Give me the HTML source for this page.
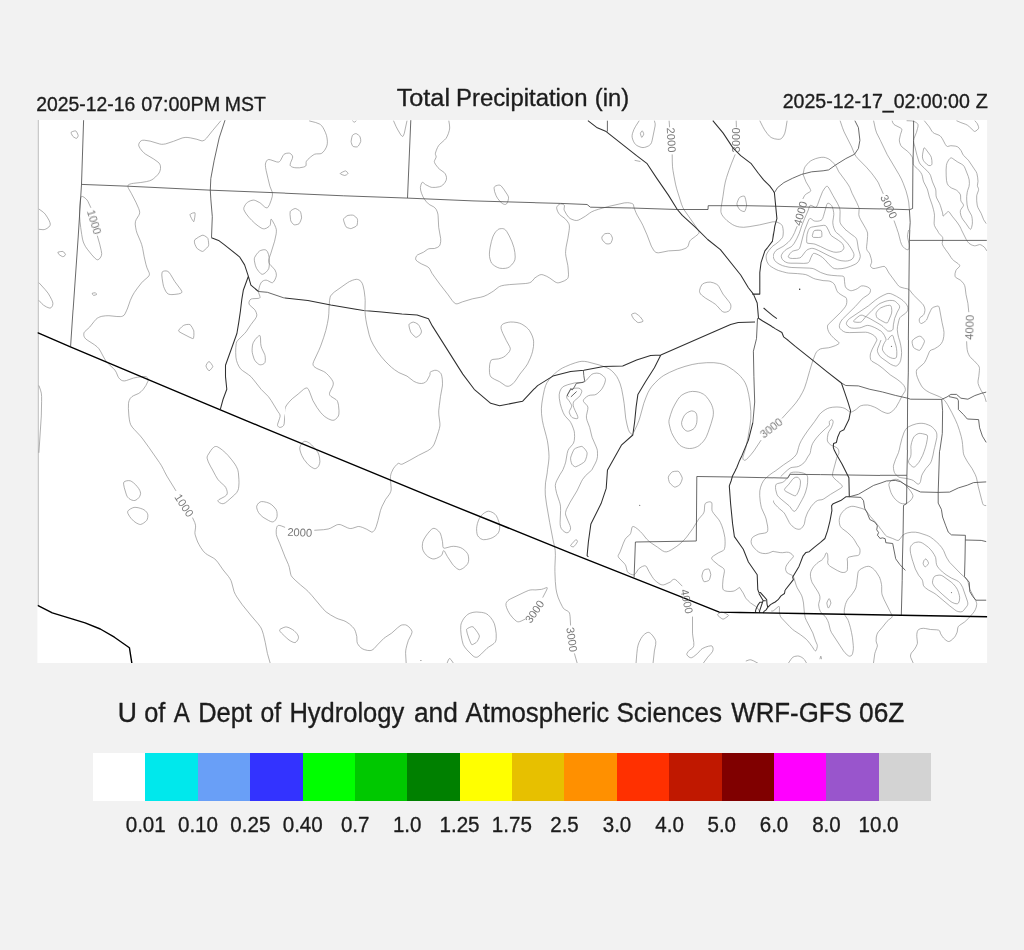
<!DOCTYPE html>
<html><head><meta charset="utf-8"><title>Total Precipitation</title>
<style>html,body{margin:0;padding:0;background:#f2f2f2;font-family:"Liberation Sans",sans-serif;}svg{display:block}</style></head>
<body>
<svg width="1024" height="950" viewBox="0 0 1024 950">
<rect x="0" y="0" width="1024" height="950" fill="#f2f2f2"/>
<rect x="37.4" y="120" width="949.7" height="543" fill="#ffffff"/>
<rect x="37.6" y="120" width="1.4" height="485.3" fill="#cacaca"/>
<defs>
<clipPath id="cA"><rect x="38" y="120" width="247" height="190"/></clipPath>
<clipPath id="cB"><rect x="285" y="120" width="250" height="190"/></clipPath>
<clipPath id="cC"><rect x="535" y="120" width="238" height="190"/></clipPath>
<clipPath id="cE"><rect x="38" y="310" width="247" height="160"/></clipPath>
<clipPath id="cF"><rect x="285" y="310" width="250" height="160"/></clipPath>
<clipPath id="cG"><rect x="535" y="310" width="238" height="160"/></clipPath>
<clipPath id="cI"><rect x="38" y="470" width="247" height="193"/></clipPath>
<clipPath id="cJ"><rect x="285" y="470" width="250" height="193"/></clipPath>
<clipPath id="cK"><rect x="535" y="470" width="238" height="193"/></clipPath>
<clipPath id="cD1"><rect x="773" y="120" width="107" height="110"/></clipPath>
<clipPath id="cD2"><rect x="880" y="120" width="107.1" height="110"/></clipPath>
<clipPath id="cD3"><rect x="773" y="230" width="107" height="110"/></clipPath>
<clipPath id="cD4"><rect x="880" y="230" width="107.1" height="110"/></clipPath>
<clipPath id="cH1"><rect x="773" y="340" width="107" height="110"/></clipPath>
<clipPath id="cH2"><rect x="880" y="340" width="107.1" height="110"/></clipPath>
<clipPath id="cH3"><rect x="773" y="450" width="107" height="110"/></clipPath>
<clipPath id="cH4"><rect x="880" y="450" width="107.1" height="110"/></clipPath>
<clipPath id="cL1"><rect x="773" y="560" width="107" height="103"/></clipPath>
<clipPath id="cL2"><rect x="880" y="560" width="107.1" height="103"/></clipPath>
<clipPath id="cmap"><rect x="37.4" y="120" width="949.7" height="543"/></clipPath>
</defs>
<g clip-path="url(#cA)" fill="none" stroke-linejoin="round" stroke-linecap="butt">
<path d="M71.1 132.3l1.2-0.7l2-0.6l1.1-0.2l0.5 0.2l1.3 1.9l1 2.5l-0.4 1.5l-1.1 1.4l-0.2 0.1l-0.8-0.2l-1.8-1l-1.2-1l-1.4-2.6l-0.2-1.3zM220.9 120.7l-8.4 10l-6 7.5l-2 1.9l-1.6 0.7l-0.9 0.1l-1-0.2l-4.1-1.4l-6.3-1.4l-2.7-0.4l-2-0.1l-1.9 0.2l-1.9 0.4l-8.6 3.3l-5.4 1.8l-2.5 0.8l-2 0.3l-2 0.1l-1.8-0.3l-9.7-2.9l-5.9-0.9l-1.8 0.1l-1.1 0.4l-1.3 1.1l-0.7 1l-0.6 1.7l0.1 1.4l1.3 2.5l2.1 2.7l1.7 1.7l1.4 1.2l8.4 5l4.3 3.1l1.1 1l0.7 1.1l0.5 1.2l0.2 1.5l0 1.6l-0.3 1.7l-0.5 1.5l-0.6 1.2l-1.5 2l-2 2l-2.1 1.8l-1.6 1.1l-2.3 1l-3.2 0.8l-5.6 0.9l-7.2 0.8l-2 0.3l-2 0.6l-0.9 0.5l-0.7 0.6l-0.2 0.9l0.2 0.9l0.5 1.3l2.8 4.9l4.6 8.9l2.8 6.3l0.8 2.5l0.2 1.8l-0.3 1.3l-0.7 1.4l-2.4 3.9l-0.8 1.9l-0.3 2.7l0.4 3.1l0.6 3.2l0.8 2.8l3.7 8.7l1 2.8l1 4l1.5 8.2l1.7 7.4l1.1 3.7l2.2 4.9l0.2 0.9l0 0.9l-0.4 1.1l-1.1 1.4l-4.7 4l-1.8 1.9l-3.9 5l-3.2 4.5l-2 3.5l-2 4.4l-3 8.6l-0.9 1.6l-1.7 1.8l-1.6 1.3l-1.3 0.8l-2.9 1.2l-2.7 0.2l-7.2-0.4l-2.4 0.1l-4.5 1l-4 1.6l-2.1 1.3l-1.4 1.2l-2.2 2.5l-4 5.2l-3.5 3.1l-0.6 0.7l-0.5 1.2l0.3 2.2l1 2.5l1.6 2.5l1.3 1.3l2.1 1.6l8.5 5.7M90.9 207.8l-3-6.5l-0.8-1.2l-1.2-1.3l-1.9-1.6l-1.7-0.8l-0.6 0l-0.3 0.2l-0.7 1.3l-0.5 2.9l-0.5 5.1l-0.2 5.2l0.1 5.2l0.4 5.2l0.7 5.9l1 7l0.8 4.7l0.8 2.9l0.9 2.1l1.3 2.5l1.8 2.6l4.5 5.6l2.8 3.1l2.1 1.7l0.6 0.2l0.8-0.1l1.3-0.8l1.4-1.9l0.7-1.7l0.2-1.8l-0.5-3.1l-1.5-6.3l-2.4-8.4M38.9 209l4.3 3.1l2 2l2 3l1.8 3.1l1 2.5l0.3 1.6l-0.4 1.4l-1 1.3l-1.9 1.4l-1.8 0.9l-1 0.3l-1.2 0.1l-4.1-0.4M57.9 252.2l2.4-0.6l2.7-0.2l0.7 0.6l0.9 1l0.9 1.7l-0.5 0.8l-1.1 0.8l-0.9 0.5l-0.3-0.1l-1.6-0.8l-1.9-1.2l-1.1-1.6l-0.2-0.6l0-0.3zM38.9 282.7l6.2 6.8l3 3.7l2 3.4l1.6 3.1l0.9 2.2l0.3 1.7l-0.3 1.8l-0.8 1.5l-0.7 0.8l-0.8 0.3l-1.2 0l-2.7-1.1l-2.8-1.7l-1.7-1.5l-3-3.3M92.2 293.3l1.6-0.4l1.7-0.1l0.8 0.9l0.2 0.9l-1.4 0.5l-1.6 0.3l-0.9-1l-0.4-1.1zM190 214.6l0.5-0.6l1.9-0.9l2-0.4l0.6 0.1l0.1 1.5l-0.3 2.8l-0.6 3.4l-0.4 1.2l-0.9-0.9l-1.3-2.2l-1.2-2.5l-0.4-1.5zM195 239.5l3.4-2.3l3.6-1.9l1-0.1l1.6 0.6l2.2 1.4l0.7 0.7l0.4 0.6l0.4 1.9l0.3 2.5l0.1 1.7l-0.2 1.2l-0.6 1l-1.2 1.3l-3.1 2.8l-0.7 0.4l-0.6 0.1l-1.4-0.5l-1.7-1l-1.9-1.3l-0.5-0.5l-0.8-1.4l-1-2.2l-0.5-1.6l-0.1-1.8l0.3-1.2l0.3-0.4zM162.5 271.7l0.7-0.4l1.1-0.3l1.8-0.1l1.8 0.5l1 0.8l1.6 2.2l4.2 7l6.4 8.6l0.7 1.5l0.1 0.6l-0.5 0.8l-0.9 0.5l-1.9 0.5l-3.7 0.5l-3 0.2l-1.7-0.1l-1.4-0.3l-0.8-0.3l-1.1-1l-1.2-1.7l-1.2-2.5l-0.9-2.2l-0.6-2.7l-0.8-5l-0.4-3.8l0.2-2.2l0.5-1.1zM178.5 330.9l0.4-0.9l1-1.3l1.8-1.9l1.9-1.5l1.3-0.5l1.9-0.3l1.9-0.2l1.3 0.3l0.8 0.8l1.3 2l1.2 2.3l0.5 1.2l0.1 1.9l0 2.6l-0.2 1.8l-0.3 1.1l-0.1 0.2l-0.5 0.1l-1.4-0.3l-4.9-2.2l-5.7-3.2l-1.7-1.3l-0.6-0.7zM290 153.1l-4 0.4l-1.1 0.3l-1 0.6l-1 1.4l-2.4 4.7l-1 1.1l-0.7 0.4l-0.8 0.1l-1.4-0.2l-5.8-2l-1.8-0.4l-0.8 0.1l-0.9 0.5l-0.7 0.7l-0.7 1.5l-0.5 1.7l0 1.3l0.2 2.3l0.5 2.7l1.9 8.3l1.9 7.6l2.1 5.3l0.5 2.5l-0.3 2.8l-1.2 3.9l-1.5 4l-1.4 2.4l-0.5 0.5l-0.5 0.3l-1.2-0.2l-1.3-0.8l-3.7-3.4l-1.1-0.8l-4-2l-1.5-0.5l-0.9-0.1l-1.4 0.2l-1.6 0.5l-1.6 0.7l-1.3 0.9l-1.1 0.9l-1 1.3l-0.8 1.5l-0.7 1.5l-0.1 1l0 0.8l0.7 1.7l1.8 2.9l2.6 3.3l2.9 3.1l3.1 3l3.3 2.6l2.8 1.9l1.8 0.8l0.8 0.1l0.9 0l2.1-0.7l2.4-1.6l0.9-1l0.5-1l0.4-4.8l0.2-0.5l0.4 0.1l0.8 1.1l2.3 4.1l1.2 2.9l0.6 1.9l0.1 1.9l-0.2 2.6l-1.6 7.4l-3.7 12l-1.9 5.4l-0.3 1.5l-0.1 1.4l0.2 1.3l0.7 1.2l1.5 1.7l2.9 2.8l1.1 1.5l1.1 2.7l0.3 2.6l-0.4 1.9l-1.2 2.8l-1.3 1.9l-1 0.8l-0.4 0l-0.9-0.2l-3.7-2l-1.4-0.4l-1.5 0.2l-1 0.3l-1.8 1.2l-0.9 1.2l-1 2.2l-0.8 2.8l-0.5 3.1l0 1.6l1.3 3.5l0.1 1.4l-0.5 0.5l-1.2 0.3l-5.6 0.3l-1.5 0.3l-1.2 0.9l-0.6 1l-0.5 1.7l0.3 1.6l1 1.4l4 3.5l1.3 1.5l1.1 2.2l0.8 2l0.3 1.5l-0.1 1.5l-0.5 1.1l-0.8 1.2l-5.4 5.7l-3.7 5.8l-1.4 1.8l-1.5 1.4l-4.5 3.4l-1.4 1.5l-1.3 1.7l-0.8 1.8l-0.2 1.4l0.2 1.8l0.6 3.5M254.7 257.3l1.5-2.5l1.8-2.3l1.5-1.4l1.3-0.7l2.3-0.6l1.1-0.1l1.1 0.1l1.1 0.6l1.1 1.4l1 2.6l0.7 3.3l0.3 4.8l-0.4 4.5l-0.4 1.7l-1.2 1.9l-1.7 1.8l-1.9 1.4l-1.6 0.5l-0.7-0.2l-0.8-0.5l-2.1-2.2l-2.2-3.1l-1.2-3.1l-0.9-4.4l-0.1-2l0.4-1.5zM253.4 338.5l3.1-2.1l1.7-1l1.3-0.3l0.5 0.3l0.5 1.7l0.5 6l1.3 6.8" stroke="#858585" stroke-width="0.65"/>
<path d="M83.6 120.2l-2.1 64.2l-3.3 52.6l-7.6 109.1M81.3 184.4l46.5 1.8l83 4l79.2 3.1M225 120.2l-5.8 17.7l-5.1 22.9l-3.3 17.8l-0.5 11.6l0.5 8.7l1.5 17.7l-0.8 21.1M258.5 291.5l8.9 0.8l16.5 5.6l6.1 0.5" stroke="#444444" stroke-width="0.8"/>
<path d="M211.5 237.7l7.7 3.1l5 3.8l15.3 12.2l5.1 8.1l3.8 11.4l2.5 8.9l7.6 6.3M248.4 276.3l-5.1 14l-1.5 9.1l-1.4 11.7l-2.2 14.7l-2.5 10.2l-5.1 13.9" stroke="#303030" stroke-width="1.05"/>
</g>
<g clip-path="url(#cB)" fill="none" stroke-linejoin="round" stroke-linecap="butt">
<path d="M309.2 120.9l6.5 1.6l3.8 1.5l1.1 0.7l1 1l1.2 1.6l1.1 1.9l1.4 3l1.2 3.2l0.5 2.5l0.4 3.3l-0.1 2.6l-0.5 2.2l-0.8 1.9l-1.4 2.4l-1.7 2l-1.4 1.1l-1.4 0.4l-3.8 0.1l-1.6 0.3l-1.6 0.9l-2.3 1.7l-3 2.7l-1.4 1.8l-0.3 1.1l0 2.8l-0.4 0.8l-0.6 0.5l-1.7 0.6l-3.9 0.7l-3.5 0l-1.8-0.2l-1.8-0.5l-1-0.5l-0.8-0.6l-0.4-0.6l0-1.2l0.4-1.5l1.7-4l0.4-1.7l-0.3-1.2l-0.6-1l-0.8-0.8l-1.4-0.8l-1.4-0.1l-1.7 0.2l-1.8 0.6l-0.9 0.6l-0.8 1l-0.8 1.5l-2.2 5.1M352.4 120.7l1.1 1l0.9 0.5l0.5-0.2l1.3-1.3M352.4 135.4l0.7-0.6l1.1-0.7l1.1-0.4l0.9-0.1l0.7 0.4l1.6 1.1l1.3 1.2l0.3 0.7l0.6 2.7l0 2l-1.4 2.8l-1 1.5l-0.9 0.8l-1.4 0.2l-2.4-0.4l-0.7-0.3l-0.8-1.2l-0.8-2.4l-0.2-1.3l0.6-3.6l0.7-2.4zM393.5 120.7l2.6 5.9l1.8 3.4l2.9 4.9l1.1 1.2l0.7 0.3l0.5-0.2l0.3-0.5l0.9-2.4l2.7-12.6M340.2 173.5l0.4-0.4l1.6-0.9l2-0.9l1.3-0.4l0.4 0.2l1 0.7l0.8 1l0.3 0.7l-0.5 0.6l-1.1 0.8l-1.7 0.6l-2.6-0.8l-1.6-0.8l-0.3-0.4zM448.8 120.7l0.7 4.3l0.2 3l-0.4 2.4l-0.9 3.1l-1.1 2.6l-1.2 2.2l-1.7 1.8l-4.9 4.4l-0.8 1l-1.2 2l-1.1 2.6l-1 3.1l0 1.2l0.6 1.5l0.2 1.1l-0.3 0.8l-1.3 2.7l-0.3 1l0.2 0.9l0.8 1.7l2.7 3.6l1.8 1.7l4.4 3.1l1.1 1.4l0.9 2.1l0.3 1.7l-0.1 1.6l-0.4 1.3l-1 1.8l-1 1.3l-1.2 1.3l-1.2 0.9l-2.2 0.9l-4 0.6l-3.1 0l-1-0.1l-1.6-0.6l-4.2-2.1l-2.3-2l-0.7-0.3l-0.3 0.1l-0.4 0.4l-0.6 1.3l-0.5 1.7l-0.3 1.8l0.2 2.4l0.9 3.2l1.5 3.6l1.5 2.5l2 2.6l2 2l1.3 0.9l4 2.1l1.1 0.9l1.4 1.8l1 2.3l0.6 2.2l0.2 1.6l0.6 11.6l2 11.4l0 2.8l-0.4 2.3l-0.4 1.3l-0.7 1.1l-1.7 1.2l-3.1 1.1l-4.4 0.1l-1.5 0.3l-1.2 0.6l-3.8 2.7l-5.8 2.6l-1 0.9l-0.8 1.5l-0.3 1.7l0.4 1.2l1.4 1.3l2.5 1.6l1.8 1l5.3 2.4l1.9 1.4l1.1 1.6l2 3.9l3.1 4.4l4.7 6.4l8.4 10.8l3.9 5.5l2.2 2.5l0.9 0.6l0.9 0.3l1 0l1-0.2l4.2-1.7l10.2-3.1l8.3-1.6l3.2-0.9l3.5-1.6l3.7-2.2l2.1-1.3l5.1-4l1.2-0.7l1.8-0.7l3-0.6l5-0.6l16.3-1.1l2.2-0.3l1.8-0.5l1.3-0.6l1.3-1.2l4.1-4.7l1.3-0.8l2.3-1M494.6 186.7l1.1-0.8l1.8-0.6l1.2-0.2l1.2 0.1l0.8 0.4l0.6 0.5l2.4 3l3.8 5.8l0.7 1.3l0.3 0.9l0 1.4l-0.5 2.3l-0.8 2.1l-0.7 1l-0.9 0.5l-1.1 0l-1.2-0.4l-1.1-0.6l-2.1-1.9l-2.5-3.1l-1.5-2.7l-1.5-4.1l-0.5-3.2l0.1-1l0.4-0.7zM290.2 211.6l0.5-0.7l1.5-1.1l1.7-0.9l1.3-0.4l0.8 0.2l1.6 0.8l1.7 1.1l1 1l0.5 1.2l0.4 1.8l0.4 3.3l-1 3.1l-0.9 1.7l-0.7 1.1l-1.8 0.7l-1.9 0.3l-1 0l-1-0.5l-1.6-1.9l-0.9-1.5l-0.3-1.6l-0.5-5l0.2-2.7zM343.5 219.2l0.4-0.7l1.3-1.3l1.6-1.2l1.2-0.6l2.6-0.3l1.8 0l1.2 0.3l2.2 1.6l1.2 1.4l0.4 0.8l0.2 1.3l-0.1 1.9l-0.4 2.8l-0.7 0.8l-1.4 0.9l-3.6 1.6l-0.7 0.1l-1-0.2l-2.5-0.8l-1.2-0.8l-0.7-1.4l-1.3-3.6l-0.4-1.6l-0.1-1zM490.2 247.1l1.2-5.6l1.4-4.6l1.3-2.7l1.5-2.3l2.1-2.1l1.1-0.7l1-0.3l1.7-0.2l1.2 0l1.1 0.3l0.9 0.4l0.9 0.8l1.2 1.5l2.5 4.4l2.7 5.9l1.9 5.6l1 5.1l0.3 4.4l-0.3 2.8l-0.6 1.4l-0.8 1.4l-1.8 2.3l-2.4 2.1l-1.7 0.8l-2 0.5l-2.9 0.2l-3.1-0.3l-2.4-0.9l-2.5-1.4l-1.7-1.3l-1.3-1.3l-0.9-1.8l-0.8-2.5l-0.5-2.5l-0.1-2.4l0.2-3.1l0.6-3.9zM319.4 349.9l5.2-13.2l1.1-3.3l0.8-3.4l0.8-4.6l1.2-8.6l1-16l0.5-3l0.5-1.7l1.6-2l2.3-2.1l13-9.2l2-1.2l3-1.3l2.2-0.7l2-0.3l0.8 0.1l1.4 0.4l1.3 0.8l0.8 0.7l1.3 2l0.9 2.5l1.1 5.1l0.8 6.5l0.2 3.3l-0.2 8.5l0 3.5l0.7 5.5l1.2 6.9l1.7 7.3l2.5 7.9l1.5 3.5l3.4 6.1M408.2 325.8l0.4-0.8l1.2-1.4l1.5-1.2l0.7-0.4l0.8 0l1.7 0.2l2.3 0.8l0.7 0.8l1.3 1.8l2.8 5.1l0.1 1.2l-1 2.1l-1.1 1.2l-2.5 1.7l-1.3 0.3l-0.9-0.5l-2.4-1.9l-1.7-1.9l-1.8-3.8l-0.6-2.2l-0.2-1.1zM511.1 349.9l-8.5-17l-1-2.6l-0.3-2l0.1-1.1l0.3-1l0.5-0.9l1-1l1.7-1l1.5-0.6l1.7-0.5l1.7-0.2l2.3 0.2l2.7 0.7l3.3 0.9l2.3 0.9l2.3 1.2l2.2 1.4l2 1.6l1.2 1.4l1.6 2l1.4 2.4l0.9 1.9l0.6 1.9l0.3 1.4l0.1 2.3l-0.4 7.7" stroke="#858585" stroke-width="0.65"/>
<path d="M410.8 120.2l-3.3 77.9M280 193l63.5 2.8l64 2.3l65.5 2.8l67 1.9" stroke="#444444" stroke-width="0.8"/>
<path d="M280 297.4l27.9 3l22.9 4.6l33 5.6l17.8 1.3l20.3 2l15.2 0.5l11.4 4.3l3.8 7.1l15.3 24.1" stroke="#303030" stroke-width="1.05"/>
</g>
<g clip-path="url(#cC)" fill="none" stroke-linejoin="round" stroke-linecap="butt">
<path d="M672.2 154.4l0.1 7.5l0.2 4.8l0.5 3.9l1.1 6.2l1.4 7.3l1.2 4.7l4.8 15.4l1.4 3.4l1.4 2.5l12.2 17.4l1.8 3.1l0.5 1l0.2 0.9l-0.3 1l-0.6 0.7l-2.8 2.3l-4 2.9l-1.3 1.4l-0.7 1.3l-1.1 3.8l-0.8 1.2l-1.4 1l-1.9 0.8l-2.7 0.9l-2.4 0.5l-10.6 0.6l-7.4 1.5l-2.5 0.4l-1.5-0.1l-1-0.3l-0.8-0.5l-0.7-0.6l-0.9-1.2l-2.3-4l-4.3-11.3l-4.1-9.4l-1.7-3.3l-4-6.9l-1.3-2.7l-1.8-4.7l-0.7-3.2l-0.6-0.7l-1.1-0.5l-2.1-0.5l-1.9-0.2l-3.4 0.2l-16.4 3.7l-9.2 2.6l-4 1.3l-3 1.3l-2.2 1.4l-4.1 3l-4.9 2.9l-2.3 1.1l-1.7 0.3l-1.9-0.2l-2.6-0.9l-1.9-0.9l-1.4-1.2l-2.3-3.1l-2.1-3.9l-0.3-1.2l0.5-3.2l-0.2-0.7l-0.8-0.6l-1.2-0.5l-1.3-0.3l-1 0.1l-1.2 0.7l-0.9 0.8l-0.7 0.9l-0.5 1l0 0.8l0.1 0.9l0.7 2.1l1.1 2.1l0.9 1.2l1.5 1.3l3.9 2.8l2.3 2.6l1.5 2.3l0.4 1l0.3 1.5l0 2.2l-0.3 2.6l-1.2 7.5l-1.8 8.9l-0.5 4.6l0 1.9l0.3 2.6l1.9 9.1l0.3 2.7l0.4 6.2l-0.1 1.9l-0.3 1.5l-0.5 0.9l-0.8 0.8l-2.4 1.5l-4.4 1.7l-1.7 0.3l-1.1 0l-0.9-0.3l-1.2-0.6l-5.3-3.8l-3.1-1.8l-3.5-1.4l-1.4-0.3l-0.8 0l-1.4 0.4l-2 1.1l-3.9 2.6l-3.7 2.8M735.2 154.4l-3.6 8.8l-2.8 7.5l-2.2 6.6l-1.3 4.7l-1 5.1l-1.4 9.7l-1.8 10.8l-0.2 2.4l0 1.6l0.2 1.1l0.6 1.6l1.1 1.8l2 2.3l2.1 2.1l3 2.3l2.8 1.9l2.1 1l2.4 0.8l2.4 0.5l4.1 0.3l5.4-0.6l10.4-1.8l13.8-3.2l2.1-0.3l2.2 0.1l0.8 0.4l1.3 1l1.2 1.2l1 1.4l0.7 1.3l0.6 1.3l0.5 2.2l0.3 2.3l0 1.4l-0.4 1.3l-1 1.7l-2.8 2.9l-7.6 6.7l-3.3 3.8l-1.7 2.6l-0.9 2.2l-0.2 1.7l0.2 2.1l0.7 2.6l1.4 2.6l1.2 1.3l2.1 1.5l5 2.8l3 1.3l4.7 1.5l5.6 1.2M639.2 120.7l-3.6 5.6l-1.7 3.2l-1.5 4.2l-0.3 2l0 1.4l0.5 2l0.8 2.1l1.1 2l0.9 1.1l1.5 1.2l2 1l2.2 0.8l1.9 0.3l1.4-0.2l1.6-0.4l2.6-1.1l1.3-1l0.7-0.6l0.9-1.6l0.7-2.5l2.9-14.2l0.1-2.2l-0.8-3.1M640.4 133.4l0.8-1.6l1-1l0.8 1.1l0.7 1.8l0.1 0.4l-0.4 1l-1.1 1.8l-0.6 0.5l-0.8-1.8l-0.5-2.2zM759.8 120.7l2.9 5.8l1.9 3.4l2.7 3.8l2.1 2.4l1.8 1.4l1.8 0.8l3.4 0.9l2.5 0.2l1.7-0.3l1.1-0.8l0.9-1.2l0.8-1.7l0.7-2l0.6-2.4l1.7-10.3M634.6 160.3l5.8 1.2M736.9 203.9l0.3-1.2l0.6-1.8l1-2.3l0.7-1l1.3-0.8l1.9-0.6l1.1-0.1l0.8 0.2l0.5 1.3l0.6 2.2l0.6 3.2l0.3 2.2l-0.7 3.3l-0.6 1.7l-0.6 1.2l-0.4 0.2l-1.6-0.3l-1.9-0.9l-1.3-0.9l-1.6-2.6l-0.7-1.7l-0.3-1.3zM601.9 237l1.3-1.8l1.7-1.5l2.6-0.3l1.7 0l0.8 0.3l0.5 0.5l1 1.5l1 2.5l-0.4 2.1l-1.2 2.7l-0.5 0.5l-1.5 0.4l-1.9 0l-1.1-0.3l-1.8-1.6l-1.7-2l-0.5-1.5l0-1.5zM699.6 290.3l0.8-2.8l1.3-2.5l1-1.1l1.6-0.8l2.8-0.8l3.2-0.2l3.4 0.8l3 1.4l1.2 0.9l0.8 1l4.3 7.9l5.7 7.2l1.6 2.3l0.5 1.3l0.1 1.8l-0.3 1.8l-0.7 1.4l-0.6 0.7l-0.7 0.5l-2.1 0.9l-1.2 0.2l-1.2 0l-1.4-0.5l-1.7-1.4l-3.7-4.2l-2-1.9l-3-2l-6.8-4.1l-4-3.1l-0.9-0.9l-0.8-1.5l-0.3-1.1l0.1-1.2zM631.6 314.4l1-0.7l1.8-0.6l1 0l0.6 0.3l2.5 1.8l1.9 1.7l2 2.8l0.5 1l0.1 0.5l-1 0.6l-2 0.5l-1.7 0.3l-0.7-0.2l-1.7-1.4l-2.3-2.3l-1.5-2.5l-0.4-1.1l-0.1-0.7zM530 332.2l2.1 3.8l0.9 2.5l0.1 2.7l-0.6 4.9M774.5 192.5l3.3-4.9l2.3-2.7l3.4-2.5l6.5-3.8M669.1 120.7l0.5 6.6M736.2 120.7l0.2 6.6" stroke="#858585" stroke-width="0.65"/>
<path d="M530 202.6l30.5 0.8l26.6 1.1l3.3 2.7l41.2 0.8l45.7 1.5l30.7 0l0.2-3.8l37.6 0l28 0.5l16.2 0.8M607.4 120.7l0 10.9M756 321.5l0.5 17l-3.1 11.4" stroke="#444444" stroke-width="0.8"/>
<path d="M587.9 120.7l9.4 7.1l8.9 3.8l30.4 24.1l10.2 7.6l10.2 15.3l11.4 16.5l8.9 14.4l5 5.9l12.7 11.4l12.7 12.7l12.7 10.1l20.3 25.4l7.7 12.7l5 6.4l3.8 8.9l1.3 15.2l7.6 5.1l8.9 6.3l6.4 5.1l2.5 3.8l6.1 4.6M712.8 120.7l10.2 12.2l10.1 15.2l7.6 7.6l10.2 7.6l7.6 10.2l5.1 6.3l6.3 6.3l4.6 6.4l2.3 26.7l-3 12l-1.3 9.9l-4.7 6.2l-2.9 3.6l-3.8 11.4l-1.3 10.2l0 21.6l-7.6 0M763.6 308l12.7 10.7M672.2 349.9l40.6-17.7l17.8-7.6l7.6-2.1l16.8-0.7" stroke="#303030" stroke-width="1.05"/>
</g>
<g clip-path="url(#cE)" fill="none" stroke-linejoin="round" stroke-linecap="butt">
<path d="M148.1 270l1.3 1.9l0.2 1.2l-0.3 0.7l-0.7 1.2l-1.6 1.9l-10.8 12l-2.6 3.5l-2.1 3.7l-1.9 4.3l-1 2.7l-2.1 7.7l-1.5 3.1l-0.9 1.3l-1.4 0.9l-1.3 0.4l-1 0.1l-3.5-0.1l-8-0.8l-3.3 0.1l-3.8 0.5l-1.9 0.6l-1.3 0.6l-1.3 0.7l-1.4 1.2l-1.7 2l-4.5 5.7l-5 4.6l-0.5 0.7l-0.3 0.8l-0.1 1l0 1.1l0.3 1.1l0.5 1.1l1.3 1.6l2 1.4l6.5 4.2l2.7 2.1l1.7 1.8l1.6 2.4l3.7 7l1.8 3l2.3 2.6l5.1 4.8l1.5 1.6l1.4 2.2l1.8 4.3l0.6 1.1l1.4 1.6l1.3 1l1.5 0.6l1.9 0.1l1.7-0.4l7.2-2.5l4.2-0.8l4.2-0.5l2-0.1l1.5 0l1.2 0.5l0.8 0.7l0.6 1.5l0 1.1l-0.3 1.1l-1.9 4l-2.6 3.8l-2.1 2.2l-2.4 1.9l-5.3 2.3l-1.6 1l-1.6 1.6l-1.1 2.2l-0.5 1.6l-0.2 1.6l-0.1 5l0.5 7.3l0.5 3.9l0.5 2.4l0.8 2.4l1.5 2.4l2.2 2.5l6 6.4l2.4 3l6.3 8.7l10.4 14.9l2 3.1l2 3.8l1.8 4l2.5 6.2l1.3 2.8l2.5 3.3l5.7 6.4M38.9 282.7l6.1 5.7l1.9 2.1l1.2 1.5l1.7 2.8l1.7 3l1.1 2.8l0.3 1.7l-0.2 1.9l-0.9 2.2l-1.2 1.5l-1 0.3l-1-0.2l-1.6-0.7l-3-1.8l-2.1-1.8l-3-3.2M92.2 294.1l1.6-0.5l1.7-0.2l0.5 0.3l0.4 0.7l0.1 0.5l-1.4 0.6l-1.6 0.4l-0.9-0.8l-0.4-1zM162.5 272.5l1.8-0.8l1.8-0.3l1.8 0.3l1.3 1.1l1.7 2.3l3.8 6.3l6.3 9l0.8 1.9l0.1 0.6l-0.5 0.8l-0.9 0.4l-1.3 0.3l-3.8 0.4l-2.9 0.1l-1.8-0.1l-1.5-0.3l-0.8-0.4l-1-0.9l-1.2-1.7l-1.2-2.5l-1.3-3.4l-0.8-3.1l-0.8-4.1l-0.3-3.2l0.2-1.6l0.5-1.1zM178.5 330.9l0.4-0.9l1-1.3l1.8-1.8l1.9-1.5l1.3-0.5l1.9-0.4l1.9-0.1l1.3 0.2l0.8 0.8l1.3 2l1.2 2.3l0.5 1.2l0.1 1.9l0 2.6l-0.2 1.8l-0.3 1.2l-0.3 0.2l-0.7-0.1l-3.3-1.5l-8.1-4.2l-1.9-1.2l-0.6-0.7zM206 366l0.2-0.9l1-1.8l1.2-1.5l0.6-0.4l0.9 0.7l1.3 1.5l1.1 1.7l0.5 1.2l-0.3 0.7l-1.1 1.5l-1.4 1.5l-1 0.6l-0.5-0.4l-1.1-1.4l-1-1.7l-0.4-1.3zM276.3 273.8l-0.3 4.5l-0.4 1.1l-0.6 0.8l-0.7 0.2l-0.9 0l-5.4-0.8l-1.9 0l-0.9 0.4l-1.4 0.8l-1.2 1.1l-1 1.2l-0.7 1.3l-0.6 1.4l-0.9 4.4l-0.1 2l0.9 3.3l-0.1 0.8l-0.3 0.4l-1.5 0.5l-5.2 0.7l-1.9 0.4l-1.2 0.8l-1 1.4l-0.4 1.6l0.2 1.2l0.9 0.9l3.3 2.8l1 1.1l1.4 2.6l0.9 2l0.5 2l-0.1 1.4l-0.5 1.2l-1 1.7l-4.3 5.6l-4.8 7.2l-1.7 1.9l-6.6 6.6l-1.1 1.5l-0.5 1.8l-0.4 3.9l-0.1 5.2l0.2 4.4l0.6 3.3l1 3l1.3 2.8l1.6 2.5l2 1.8l6 4.1l2.5 2l2.8 3.3l7.4 9.4l7.3 7.3l2.7 3.8l6.7 11l1.5 2.1l0.7 1.4l0.1 1.5l-0.5 1.9l-2 5.9l0 1.4l0.7 1l0.4 0.4l1 0.4l1.2-0.1l1.4-0.6l1.3-1.2l0.6-1.7l0.5-6.7l0.5-2.4l0.5-1l1-1.5l3.3-3.8M253.4 342.4l1.9-3l2.2-2.5l1.2-1l0.6-0.4l0.5 0l0.3 0.3l0.4 2.1l0.2 5.6l0.4 2.7l0.8 2.4l2.7 5.6l0.4 1.4l0.3 2.2l0 2.8l-0.3 1.8l-0.8 1.1l-1.6 0.9l-1.2 0.3l-1.1 0.1l-0.9-0.2l-0.8-0.4l-1.3-1l-1.2-1.2l-1.1-1.4l-0.9-1.6l-1.3-4.2l-0.5-2.1l-0.2-1.9l0.1-2.7l0.2-2.2l0.5-2.2l0.5-1.3zM257.2 270l3.3 2.9l1 0.6l0.8 0.3l0.9-0.1l1-0.4l2.9-1.8l2.8-1.5M38.9 385.5l1.6 4.6l0.8 3l0.3 3.3l0 4.9l-0.3 14.6l-2.4 36.9M207.7 455.4l3.1-4.9l1.5-1.9l1.2-1.1l1.1-0.8l0.8-0.2l1.1 0l1.2 0.4l2.3 1.4l2.4 1.8l3.4 3l2.3 2.4l3.6 4.3l3.2 4.3l1.4 2.4l1.3 2.8l0.5 1.8l0.5 2.5l0.4 6.9l-0.1 6.8l-0.4 2.4l-0.5 1.7l-0.7 1.4l-1.2 1.7l-1.5 1.7l-1.9 1.8l-3.9 3.1l-1.9 1.1l-2.4 1l-1.2 0.3l-0.9 0.1l-1.9-0.3l-1.3-0.5l-0.9-0.7l-0.5-0.7l0.1-0.3l1.4-1.2l5.8-3.6l1.5-1.3l0.5-1.2l0.2-0.9l-0.2-1.6l-0.4-1.6l-1.2-2.6l-0.9-1.4l-5.8-6.3l-1.8-2.4l-3.3-5.1l-3.3-5.8l-2.1-4.2l-1-3l-0.2-0.9l0-1l0.6-1.6zM123.9 483.3l1-0.8l2.2-1l1.9-0.6l1.3-0.2l1.4 0.8l2.3 1.8l2.1 1.9l1.2 1.6l2.4 4.1l0.6 1.5l0.1 1l-0.5 1.6l-1.2 2.1l-1.9 2.6l-1.2 1.2l-0.9 0.1l-2-0.9l-2.6-1.9l-1.5-1.5l-1.8-3.4l-1.7-4.1l-1.2-4.2l-0.1-1l0.1-0.7zM127.8 509.9l4.1-1.5l2.2-0.5l2.7 0.2l4.9 1.1M256 504.9l4.1-2.5l2.6-1.2l1.8-0.2l3.2 0.6l3.2 1.1l2 1.2l1.2 1.9l1.7 4.1" stroke="#858585" stroke-width="0.65"/>
<path d="M75.7 270l-5.1 76.2M259.8 292.1l8.9 0.8l15.2 4.5l6.1 0.5" stroke="#444444" stroke-width="0.8"/>
<path d="M247.1 270l1.8 7.6l-5.6 14l-4.5 30.5l-1.9 11.4l-11.4 31.7l0 11.4l1.3 12.7l-3.8 10.2l-2.6 9.6M248.9 277.6l3.3 8.9l7.6 5.6" stroke="#303030" stroke-width="1.05"/>
</g>
<g clip-path="url(#cF)" fill="none" stroke-linejoin="round" stroke-linecap="butt">
<path d="M280 427.4l2.6-2.6l0.7-1.1l0.5-1.4l0.4-2.4l0.3-7.3l0.3-3l0.6-2.3l1.3-2.3l2.2-2.8l3.4-3.5l5.8-4.6l5.4-4.7l1.4-0.9l1.2-0.5l0.7 0l0.6 0.2l0.5 0.4l0.7 1.1l1.1 2.4l3.1 8.3l4.1 7l3.5 4.8l1.9 2.1l1.9 1.8l1.9 1.4l2.4 1.4l2.6 1.1l1.8 0.3l1.3-0.2l1.4-0.9l1.7-1.6l1.1-1.6l0.5-1.9l0.1-3.3l-0.5-5.6l-0.5-2.2l-0.4-1.4l-0.7-1.2l-0.7-0.7l-5.4-3.4l-1-1.1l-0.3-0.8l0-1.1l0.4-1.3l2.6-5.2l0.7-2l0.1-1.8l-0.5-1.7l-1-1.7l-1.3-1.8l-1.9-2.2l-2.2-2.2l-1.5-1.2l-1.4-0.8l-6.6-2.9l-1.9-1.2l-1-0.8l-0.6-0.8l-0.3-0.8l-0.1-1.3l0.7-2.2l5-10.7l1.9-4.5l3-8.5l2.2-7.2l1.6-6.9l1-5.6l0.4-4.3l0.5-12.1l0.6-3.6l0.8-2.2l1.6-1.9l2.5-2.2l11.8-8.3l2.8-1.8l3.5-1.5l3.2-0.7l1.8 0.1l1.3 0.5l0.9 0.6l1.5 1.7l0.9 1.7l0.8 2.7l0.8 3.6l0.6 4.5l0.4 4l-0.1 12l0.3 4.3l0.6 4.7l1 5.3l2.3 9.8l1.8 5.3l2.4 4.8l4.2 6.8l3.9 5.1l3.6 4.2l3.8 3.8l2.7 2.5l2.9 2.3l4.4 2.9l8.1 3.5l6.8 5.2l2.8 1.3l2.5 0.7l2.3 0.2l2.2-0.4l2-1l0.7-0.7l0.9-1.2l2.4-4.5l0.4-1l0-2.2l0.6-0.6l1.3-0.7l2.8-0.9l1.5 0l1.3 0.4l1.4 0.8l1.4 1.2l0.7 0.9l0.5 1.2l0.4 1.8l0.4 2.6l0.2 4l-0.1 2.8l-1.9 10.4l-1.2 9.3l-0.6 5.2l0.1 3.9l1.1 8.3l0 2.8l-0.5 2.6l-0.9 3.1l-2.6 8l-1.7 4.5l-1.2 2l-1.2 1.6l-1.5 1.3l-2.5 1.7l-9.4 4.7l-8.5 4.8l-7 3.7l-1 0.3l-0.7 0.1l-0.6-0.1l-1.5-0.8l-0.5-0.1l-0.5 0.2l-1.3 1l-1.9 2.1l-1.7 2.3l-1.2 2.4l-0.9 2.3l-0.5 2.2l-0.2 2.8l0.8 9.5l-0.1 2l-0.3 1.3l-1.1 2.4l-3.3 4.3l-1 1.7l-1.6 3.4l-2.7 6.7M409 324.6l0.4-0.7l0.9-0.6l1.7-0.9l1.3-0.3l2.3 0.7l2.5 1.5l0.7 0.9l0.8 1.4l1.3 2.8l0.5 1.5l0 1l-0.3 1.1l-0.9 1.7l-2.1 1.6l-1 0.7l-0.9 0.3l-0.6-0.1l-1.5-1.2l-2.2-2.3l-1.3-1.8l-1.2-3.9l-0.4-2.3l0-1.1zM502.2 324.6l1.3-0.9l2.5-0.9l2.2-0.5l2.4-0.3l3.1 0.1l3.3 0.4l2.5 0.7l2.2 0.9l2.3 1.4l2.3 1.7l1.9 1.8l1.2 1.4l1.5 2.6l1.4 3l0.9 2.9l0.4 2.3l0 2.6l-0.1 2.7l-1 5.2l-0.8 2.7l-1.3 3.5l-2.8 6l-2.3 3.4l-5.4 6.8l-4 6l-1.8 2.3l-1.3 1.4l-1.8 1.3l-1.4 0.8l-1.4 0.4l-1.3-0.1l-1.3-0.4l-6-4.1l-5.3-2.5l-2.3-1.4l-1-0.8l-0.7-1.2l-0.5-1.5l-0.3-1.7l-0.1-3.9l0.3-4.3l0.7-2.7l0.8-1.6l0.8-0.4l0.9-0.3l5.5-0.5l3-0.9l2-0.8l2-1.4l2.7-2.6l1.4-1.8l0.7-1.8l0.1-1.2l-0.6-1.7l-3.5-6.4l-3.3-6.8l-1.3-3.1l-0.5-2l0-1.7l0.5-1.4l0.6-0.7zM429.8 270l8.6 12.3l9.5 12.2l4.5 6.4l2.2 2.3l1.1 0.5l0.9 0.1l1.5-0.2l4.2-1.7l9.8-3l2.3-0.5l6.9-1.2l2.7-0.9l3.5-1.6l3.7-2.1l2.1-1.4l5.1-4l1.2-0.7l1.8-0.6l3-0.6l5-0.7l16.3-1l2.2-0.3l1.8-0.5l1.3-0.6l1.3-1.1l4.1-4.8l1.3-0.8l2.3-0.9M280 412.2l1.7 2.1l0.3 0.9l-0.3 1l-1.7 2.3M299.8 447.7l0.6-2l1.6-2.5l1.4-1.4l0.7-0.4l0.8-0.1l2 0.4l2.6 1.5l2.2 1.8l2.6 2.8l2.2 2.6l1.6 2.4l0.9 2.5l0.6 2.7l0.3 3.7l-0.3 1.8l-0.8 2.1l-0.7 1.2l-0.7 0.7l-1 0.7l-1 0.4l-1.1 0l-0.7-0.3l-1.7-0.9l-1.9-1.3l-1.7-1.5l-1.3-1.4l-3.1-3.9l-2-3.6l-1-2.5l-0.7-2.2l-0.4-2l0-1.3z" stroke="#858585" stroke-width="0.65"/>
<path d="M280 297.2l27.9 3.3l22.9 4.3l33 5.8l17.8 1.3l20.3 2l15.2 1l11.4 3.9l3.8 7.1l30.5 48.2l11.4 15.2l16.5 14l8.9 2.5l22.9-4.5l11.4-12.1l6.1-5" stroke="#303030" stroke-width="1.05"/>
</g>
<g clip-path="url(#cG)" fill="none" stroke-linejoin="round" stroke-linecap="butt">
<path d="M530 281.4l3.6-3.4l2.4-2l1.6-0.9l1.9-0.3l2.6 0.4l3.5 1.3l1.6 0.9l5.2 3.4l2.6 1.3l1.4 0.2l1.6 0.1l1.6-0.2l2.2-0.5l1.8-0.7l1.1-0.6l1.2-1.2l1.2-1.9l1-2.2l0.2-1.1l-0.2-4M530 332.2l1.8 4.5l0.9 2.8l0.3 1.6l0.2 2.4l-0.2 3.8l-0.5 4.4l-0.9 3.4l-1.6 5M699.6 290.3l0.8-2.7l1.3-2.6l1-1l1.6-0.9l2.8-0.7l3.2-0.2l3.4 0.7l3 1.4l1.2 0.9l0.8 1l4.3 7.9l5.7 7.2l1.6 2.3l0.5 1.3l0.1 1.9l-0.3 1.7l-0.7 1.4l-0.6 0.7l-0.7 0.6l-2.1 0.8l-1.2 0.2l-1.2 0l-1.4-0.5l-1.7-1.4l-3.7-4.2l-1.9-1.8l-3-2.1l-6.9-4.1l-4-3l-0.9-1l-0.8-1.5l-0.3-1.1l0.1-1.2zM631.6 314.4l1-0.7l1.8-0.5l1 0l0.6 0.3l2.5 1.8l1.9 1.7l2 2.8l0.5 0.9l0.1 0.6l-1 0.6l-2 0.5l-1.7 0.2l-0.7-0.2l-1.7-1.3l-2.3-2.3l-1.5-2.6l-0.4-1.1l-0.1-0.7zM547.8 509.9l-0.6-18.4l0.2-10.1l-0.1-8l0.3-4.2l0.9-6.2l0.4-4l0.1-2.6l-0.2-4.3l-0.6-6.1l-0.8-5.2l-1.1-4.6l-2.9-10.8l-1.1-5.2l-0.8-6.5l-0.1-5.5l0.5-5.2l1.2-7.2l1.3-6.2l1.2-4l1.4-3l2-2.9l2.9-3.4l2.7-2.6l2.9-2.4l2.7-1.9l2.3-1.4l3-1.4l5-2.1l4.8-1.7l3.9-1.1l2.7-0.4l2.7 0.1l2.7 0.4l11.8 3.1l3.7 1.3l4.2 1.6l2.2 1.1l2 1.4l2.9 2.8l2.7 3.5l1.6 3l1.8 4.3l1.5 5.4l1.3 6.9l1.2 7.6l1.5 14.3l1.4 6.9l1.2 4.4l1.1 2.5l1.2 1.5l2.2 1.6M633.6 432.5l3.4-7.2l2-5l1.1-3.5l3.7-13.5l2.3-6.2l1.8-4.3l1.9-3.5l2.2-3.1l3.1-3.4l3.8-3.7l2.4-1.9l2.2-1.6l5.8-3.1l8-3.5l7.7-2.6l7.2-1.9l6.3-1.1l8.2-0.7l7.2 0l5.8 0.7l4.4 1.2l2.2 1l2.1 1.2l5.1 3.4l5.1 4.2l2.1 2.2l1.7 2l1.5 2.1l1.3 2.2l0.9 2.1l1 2.7l1.6 6.7l1.3 7.9l0.8 9.1l0 7.4l-0.7 6.2l-2.2 13l-2.2 10.3l-2.8 8.7l-0.1 0.9l0.3 1.4l0.8 0.8l0.6 0.2l0.6-0.1l1.2-0.6l1.9-1.9l2.7-3l3.1-3.9l7.1-10.7M781.4 417.3l8.6-8.9M556.7 509.9l1-8.9l0.2-4.7l-0.1-1.5l-0.3-1.1l-1.7-3.6l-0.4-1.3l0-2.4l0.5-3.2l0.6-2l0.5-1.2l4-6l2-4.4l1.6-4.1l1.1-3.4l1.5-8.7l0.7-2.7l1.3-2.3l3.2-3.7l1.1-1.6l0.8-2.7l0.3-3.8l-0.1-3.1l-0.3-2.4l-1-3l-1.2-3.1l-1.4-2.7l-0.8-1.2l-4-4.3l-1.3-1.7l-1.3-2.5l-1.6-4.1l-1.4-4.9l-0.9-5.3l-0.1-3.5l0.5-2.8l0.8-2l1.1-1.8l1-1.1l1.4-0.9l3.8-1.5l6.6-1.7l2.1-0.3l5.3-0.3l2.4-0.5l1.2-0.7l1.1-1l4-4.7l1.4-1.2l1.3-0.6l1-0.3l2.7-0.3l2.5 0.4l1.7 0.8l2.3 1.8l1.2 1.3l0.5 0.9l0.4 1.3l-0.2 1.3l-0.5 2.1l-1.2 2.8l-1.2 2.3l-1.2 1.7l-2 2.1l-2 1.8l-1.2 0.7l-1.4 0.5l-4.4 0.3l-1.8 0.5l-1.8 1.1l-1.8 1.5l-1.1 1.3l-0.4 1.2l0.2 0.7l0.5 0.7l3.2 3.5l0.7 1.4l-0.1 2.2l-1.4 6.5l0.1 2.4l0.6 2.4l2.6 6.8l1.8 7.6l0.7 2.6l3.7 8.5l1.1 2.8l0.4 1.8l0.1 2.5l0 3.3l-0.3 1.6l-0.5 2.1l-1.2 2.8l-3.6 6.8l-1.9 4.1l-1.5 2.1l-3.3 4l-1.1 1.5l-1.2 2.3l-2.5 5.5l-1.2 2l-1.2 1.6l-3.3 3.5l-1.5 2.1l-1.9 3.7l-3.2 7.7M567 395.5l1.4-2.4l1.6-2.4l1.2-1.4l1-0.6l1.1-0.3l1.7-0.2l2.1-0.1l1.8 0.1l1.4 0.6l1.2 1.4l0.3 1l-0.1 0.9l-0.6 1.5l-1 2l-1.3 1.5l-4.6 3.9l-0.6 0.8l-0.4 1.4l0 2.1l0.5 2l1.3 3.1l1.9 3.9l0.8 2.1l0.2 1.5l0 0.3l-0.4 0.3l-1.2 0.2l-1.2-0.2l-2.7-0.8l-1.1-1.1l-1.2-1.9l-0.8-2.1l0-1l0.3-1l1.6-2.9l0.6-1.7l-0.3-1l-1.4-2.6l-1.2-1.8l-1.9-2.3l-0.4-1.4l0.4-1.4zM570.6 457.9l0.6-2l1.1-2.9l1-2.2l0.9-1.6l1.3-0.9l2.7-1.1l2.8-0.7l0.8-0.1l0.5 0.2l1 0.8l1.7 1.8l1.4 2l0.6 1.3l0.1 1.4l-0.5 2.8l-1 3l-1 2l-1.3 1l-2 1.3l-2.8 1.6l-2.6 1.1l-0.6 0.1l-1-0.4l-1.5-1.1l-0.9-1.1l-0.6-1.7l-0.5-1.8l-0.2-1.9l0-0.9zM669.1 419.8l1.6-5.5l1.9-5.4l2.5-4.9l2.8-4.7l1.9-2.4l2-1.8l3.2-1.8l3.6-1.3l2.1-0.4l1.8-0.2l3.5 0.2l2.2 0.4l2.1 0.6l3.2 1.6l1.1 0.7l1.4 1.4l2.8 3.5l2.4 4l0.7 1.7l0.7 2l0.5 2l0.3 2.6l-0.1 2.6l-0.3 2.2l-1.9 6.7l-3 8.8l-1.6 4l-1.1 2.1l-1.1 1.6l-1.3 1.7l-2 2l-1.9 1.7l-1.5 1l-1.4 0.6l-1.9 0.7l-2.1 0.5l-2.6 0.2l-1.8-0.1l-2.1-0.4l-2.1-0.7l-2-0.9l-1.8-1.2l-1.2-1.3l-2-2.5l-1.9-2.9l-2-3.5l-1.2-2.5l-1.2-3.7l-1.2-5.1l-0.2-2l0.2-1.9zM681.6 422.3l1-3.3l1.5-3.1l1.1-1.5l2.2-1.8l2.6-1.3l1.7-0.4l1.6 0.3l1.1 0.4l0.9 0.6l0.7 0.8l0.6 1.2l0.4 2.6l0 3l-0.2 2.5l-0.5 2.1l-1.1 2.4l-1.1 1.6l-1.1 0.9l-2.1 1.1l-2.1 0.7l-1.4 0.1l-1.5-0.5l-1.8-1.5l-1.5-2.1l-0.9-2.5l-0.1-2.3zM668.4 476.9l0.5-1.1l1.1-1.6l1.2-1.5l1-0.8l1.9-0.4l3.2 0l1.2 0.4l1.2 1.3l2 3.3l0.6 1.4l0 0.6l-0.3 1.5l-0.7 1.8l-1.5 2.8l-1.1 0.8l-1.6 1l-1.6 0.6l-0.8 0.1l-1-0.5l-1.4-1.1l-1.8-1.7l-0.9-1l-0.5-1.4l-0.5-1.8l-0.3-1.8l0.1-0.9zM773.8 270l5 2.3l2.6 0.7l3.2 0.1l5.4-0.6" stroke="#858585" stroke-width="0.65"/>
<path d="M757.5 318.2l-1 20.4l-3.1 12.6l0.5 25.4l0.8 25.4l-1.8 20.3M583.4 370.5l0.4 5.1l0.9 5.3l-1.3 1.4l-7.1 1.1l-1.9 3.6l-2.2 3.1l-1.3-1.6l-3.6 6.7l1 1.4M570.9 396.9l5.7-5.4M696.8 509.9l0-33.5l36.3 0.5l56.9 1.3M703.9 509.9l1.8-7.6l6.6 0l-0.8 7.6" stroke="#444444" stroke-width="0.8"/>
<path d="M736.9 270l11.5 17.8l5 6.3l3.8 8.9l1.3 15.2l4.2 2.8l8.1 4.8l4.2 3l6.4 5.8l2.5 4l6.1 4.5M759.8 270l0 24.1l-7.6 0M763.6 308.1l12.7 10.5M530 393.2l7.6-7.6l15.3-9.5l17.7-4.5l13.2-1.3l19.8-3.8l19.1-0.5l13.9-5.9l14-4.5l10.2-0.5l52-22.9l17.8-7.6l7.6-2l16.8-0.5M752.9 422.3l-4.5 17.8l-6.4 15.3l-2.4 5l-2.9 7.3l-2.8 5.4l-3.1 7.8l-1.5 4.9l1.3 12.7l2 11.4M660.8 355.1l-6.4 12.7l-8.9 13.9l-7.6 12.7l-1.8 12.7l-1.5 15.2l-1.8 12.7l-11.4 10.2l-14.2 25.4l-1 22.8l-3.8 8.9l-3.8 7.6" stroke="#303030" stroke-width="1.05"/>
<circle cx="639.7" cy="505.4" r="0.6" fill="#777" stroke="none"/>
</g>
<g clip-path="url(#cI)" fill="none" stroke-linejoin="round" stroke-linecap="butt">
<path d="M135.4 430l6.6 7.2l3.5 4.2l2.5 3.6l6.2 10.1l5.7 7.6l1.7 2.8l3 6.3l2.3 4.3l9.1 14.8M192.5 517.6l2.3 5l0.7 2.6l0.1 1.9l-0.7 5.4l0.1 1.6l0.5 1.8l1 3l1.2 3.1l1.4 2.7l1.5 2.6l2.5 3.6l2.4 2.5l2.1 1.4l5.7 3.2l1.7 1.2l1 0.9l2.2 2.7l5 7.2l5.3 6.5l1.4 2.1l1.1 2l0.8 2.4l2.3 8.7l1.2 2.6l1.5 2.6l5.5 7.9l9.2 11.3l6.6 7.7l1.8 2.4l1.2 1.8l1.2 2.9l1.1 3.5l1.9 8.3l2.1 10.7l2.9 10.2M40.2 430l0.4 6.1l0.1 4.1l-0.5 4.5l-1.3 9.4M123.9 482.1l1.1-0.8l1.7-0.5l1.9-0.2l1.7 0.2l1.6 0.8l1.7 1.3l2.1 1.9l1.6 1.9l1.4 1.8l1.1 2l0.5 1.3l0.3 1.5l-0.3 1.6l-0.6 1.5l-0.8 1.2l-1.5 1.5l-1.4 0.9l-1 0.4l-0.9 0.2l-0.8-0.1l-1.5-0.4l-1.5-0.7l-1.4-1l-1.1-1.1l-0.8-1.1l-0.8-2.1l-1.9-6.3l-0.7-3.6l0-1.4l0.3-0.7zM127.8 511.2l0.7-0.9l1.8-1.3l2.2-1.1l1.6-0.5l1.8 0l2.2 0.3l2.2 0.6l2.3 0.8l1.4 0.7l1.4 1l1.2 1.3l0.8 1.3l0.3 0.8l0.2 1.6l-0.2 1.8l-0.4 1.6l-0.7 1.3l-1.1 1.1l-1.8 1.4l-1.5 0.9l-1.8 0.6l-0.8-0.1l-1.4-0.5l-2-1l-2.5-1.8l-2.7-2.8l-1.5-2l-1.5-2.6l-0.4-1.6l0.2-0.9zM207.7 455.4l1.4-2.4l1.7-2.5l1.5-1.9l1.2-1.1l1.1-0.8l0.8-0.2l1.1 0.1l1.2 0.4l2.3 1.4l2.9 2.2l3.9 3.5l3.4 3.4l2.6 3l2.1 2.7l1.4 2.5l1 2.3l0.6 2.3l0.5 2.5l0.5 6.5l0.1 3.5l-0.2 3.3l-0.3 2.4l-0.5 1.7l-1.3 2.4l-2.2 2.3l-7.1 6.3l-2.1 1.6l-1.5 0.7l-0.9 0.2l-1.2-0.1l-2-0.8l-1.4-1.1l-0.4-0.8l0-0.3l0.9-0.9l5.8-3.1l2-1.6l0.5-1.1l0.2-1l-0.2-1.6l-0.4-1.6l-0.9-2.1l-1-1.5l-5.1-4.6l-2-2.3l-2.1-3.5l-4-7.6l-3.3-5.1l-0.8-2.2l-0.4-2.1l0.1-1.6l0.5-1.7zM256.7 506.2l0.9-1.9l1.1-1.3l1.4-1l1.3-0.4l2.3 0.1l2.8 0.6l2.6 0.9l2.1 1.2l1.8 1.5l1.9 2.1l1.2 1.6l0.7 1.8l0.3 2.2l0 2.7l-0.5 1.8l-1.1 1.9l-1.1 1.2l-1 0.5l-0.9 0.2l-0.7-0.1l-1.4-0.4l-2-1l-5.3-3.1l-2.8-2.5l-1.8-2.3l-0.9-1.8l-0.6-1.7l-0.3-1.5l0-1.3zM290 529.3l-8.7-3.4l-1.5-0.4l-1.2-0.1l-0.9 0.4l-0.5 0.6l-0.4 0.9l-0.5 2.2l-0.1 2.4l0.1 2.6l0.8 2.7l2.8 6.6l10.1 25.8M290 626.7l-4 0.2l-2.1 0.5l-3.2 1.5l-0.8 0.6l-0.3 0.8l0.6 1.3l1.4 1.6l3 2.9l5.4 4.7" stroke="#858585" stroke-width="0.65"/>
</g>
<g clip-path="url(#cJ)" fill="none" stroke-linejoin="round" stroke-linecap="butt">
<path d="M439.5 430l-3.6 9.7l-1.8 4.5l-1.5 2.7l-1.6 1.7l-4 2.6l-8.6 4.2l-8.5 4.9l-6.6 3.4l-1.4 0.6l-0.7 0l-0.6-0.1l-1.5-0.8l-0.5-0.1l-0.5 0.2l-2.1 1.8l-2.5 3.2l-1.9 3.7l-0.7 2l-0.4 2.2l-0.1 2.7l0.8 9.1l-0.1 1.9l-0.3 1.3l-0.6 1.5l-0.8 1.4l-3.8 5.1l-3.5 6.8l-1.6 4.2l-2.5 10.2l-1.8 6.1l-1.3 2.9l-0.8 1.1l-0.8 0.8l-0.9 0.5l-0.5 0.1l-0.7-0.2l-4.4-2.6l-4.1-1.8l-2.5-0.8l-1.5-0.2l-0.8 0l-5.5 1.8l-1.6 0.2l-1 0l-2.1-0.6l-6-2.8l-1.5-0.5l-1.3-0.1l-1.3 0.1l-1.3 0.5l-5.6 3l-2.5 0.9l-4.6 0.7l-9.3 0.6M285.1 527.3l-5.1-1.6M299.8 447.8l0.6-2l1.6-2.6l1.4-1.4l0.7-0.4l0.8-0.1l2 0.4l2.6 1.5l2.2 1.9l2.6 2.7l2.2 2.7l1.6 2.4l0.9 2.4l0.6 2.7l0.3 3.7l-0.3 1.9l-0.8 2.1l-0.7 1.1l-0.7 0.8l-1 0.6l-1 0.4l-1.1 0l-0.7-0.2l-1.7-1l-1.9-1.3l-1.7-1.5l-1.3-1.3l-3.1-4l-2-3.5l-1-2.6l-0.7-2.1l-0.4-2l0-1.3zM280 545.5l8.4 19l0.9 2.8l1.4 6.9l0.5 1.4l1 1.5l2.9 3l5.3 4.7l5.3 4.4l2.5 2.3l3.8 4.2l11 13.1l3.1 3.1l4.4 3l5.4 3l2.3 1l5.7 1.8l2.1 1l3.6 2.4l2.8 2.6l1.2 1.3l0.9 1.3l0.9 2l0.6 2l0.8 3.3l0.2 4.9l0.4 1.8l1 1.6l0.9 1.3l1.6 1.5l1.2 0.9l2.1 1l3.2 0.8l2.7 0.2l1.7-0.4l1.2-0.7l1.2-1l3.2-3.6l6.3-6.4l1.9-1.4l6.1-4l6-5.4l2.3-1.8l1.2-0.7l1.1-0.3l2.2-0.1l1.1 0.1l1.4 0.6l1.9 1.4l1.5 1.7l1 1.4l0.6 1.4l0 0.8l-0.6 2.2l-3 5.9l-1.5 4.8l-0.9 3.7l-0.3 2.1l-0.1 2.5l0.6 10.2M280 629.4l3.6-1.8l1.7-0.6l1.4 0l2.3 0.7l3.4 1.8l1.6 1.1l1.1 1.1l1.6 1.7l1 1.4l0.6 1.4l0.2 1.2l-0.2 1.1l-0.5 1.2l-1 1.6l-0.8 0.8l-1.1 0.5l-1.7-0.3l-3-1.5l-2.8-2l-2.5-2.5l-4.9-5.4M422.9 541.7l1.2-2.7l1.7-2.8l1.8-2.5l2.5-3l1.6-1.5l1.2-0.7l1.1-0.2l1.3 0.4l1.5 0.8l1.8 1.6l1.4 1.7l0.6 1.2l0.8 2.6l1.1 5.1l0.4 4.9l0.5 1.2l0.7 0.4l1.1-0.1l6-1.6l2.4-0.2l2.6 0.2l2.6 0.6l1.9 0.6l1.7 0.9l2.2 1.6l1.6 1.7l1.3 1.7l0.6 1.2l0.4 2.1l0.2 2.2l-0.2 2.3l-0.6 1.9l-0.8 1.2l-1.5 1.7l-1.9 1.6l-1.4 0.9l-2 0.9l-0.9 0.1l-1.4-0.5l-1.4-0.9l-1.4-1.2l-1.6-1.6l-1.2-1.4l-5.1-7.7l-2.6-4.9l-0.5-0.6l-0.4-0.3l-0.3 0.1l-0.4 0.5l-0.9 3l-0.6 1.1l-0.7 0.6l-1.7 1.1l-2.6 1.3l-2.6 0.7l-1.8-0.2l-2-0.8l-2.3-1.4l-1.8-1.6l-1.6-2l-1.3-2.3l-0.6-1.8l-0.3-2.5l0.2-2.7l0.4-2zM476.8 526.5l0.6-2.9l0.9-2.7l1.1-2.5l1.2-2.1l1.8-1.9l2.3-1.7l2.3-1.2l1.6-0.3l1.9 0.4l2.5 1.1l2.1 1.6l1.2 1.4l1.4 2.9l1.3 3.8l0.6 2.8l0.1 2.8l-0.4 2.6l-0.9 2.2l-1.2 1.5l-2 1.7l-2.3 1.5l-2.7 1.1l-3.8 0.9l-2.9 0.2l-1.3-0.3l-1.9-0.9l-1.6-1.5l-1.2-1.6l-0.5-1.7l-0.3-2.2l-0.1-2.8l0.2-2.2zM540 590.5l-5.2-0.6l-2.5-0.1l-2.2 0.2l-1.7 0.5l-3.3 1.4l-14.4 6.9l-1.6 0.9l-1.1 0.8l-1.4 1.7l-0.6 1.4l0 1.9l0.6 2.2l1.1 2.6l1.3 2.5l1.3 2l2.5 3.1l2 2l1.9 1.5l0.7 0.3l0.9 0.1l1.1-0.1l1.7-0.6l3.9-1.9M460.8 625.5l0.3-1.6l0.6-1.6l1-2l1.1-1.8l1.3-1.6l1.5-1.5l1.2-1l1.4-0.8l1.6-0.6l2.1-0.6l2.1-0.3l1.8-0.1l4.8 0.4l2.1 0.4l2 0.6l1.2 0.7l1.1 0.7l2.5 2.5l2.2 3.1l1.7 3.4l1 4.1l0.8 5.6l0 4.8l-0.2 1.7l-0.3 1.2l-0.8 1.3l-1 1l-1.7 1.3l-3.6 2.3l-1.7 1.3l-5.5 5.5l-2.5 2.2l-1.1 0.8l-1 0.3l-0.9 0.1l-1.4-0.4l-1.3-0.8l-1.3-1.2l-5-5.1l-2.3-2.9l-1.4-2.5l-1-3.6l-1.1-6l-0.4-5.2l0.1-4.1zM466.6 629.3l0.9-0.8l2.3-1.2l1.8-0.6l1.4 0.1l1 0.9l1.9 2.4l1.9 2.7l1.3 2.3l0.3 1l-0.3 1.5l-0.8 1.8l-1.1 2l-1.1 1.2l-2.7 1.6l-1 0.4l-0.7 0l-1-1.7l-1.7-4.2l-1.6-4.8l-0.7-3l-0.1-1.6zM446.9 663.6l1.5-3.7l0.6-1l0.6-0.4l0.6 0.3l0.7 0.7l2.8 4.1" stroke="#858585" stroke-width="0.65"/>
<circle cx="420.9" cy="660.5" r="0.6" fill="#777" stroke="none"/>
</g>
<g clip-path="url(#cK)" fill="none" stroke-linejoin="round" stroke-linecap="butt">
<path d="M743.3 460.5l1.1-0.2l0.6-0.3l1.2-1.3l14.9-19.8M670.9 430l3 5.6l1.8 2.9l2.6 3.1l2.7 2.8l2.3 1.9l2.1 1.1l3 0.9l2.6 0.3l2.8-0.3l3.4-1.1l3.5-1.8l2.3-1.7l1.9-2.6l2.4-4.1l2.4-4.6l0.6-2.4M544 430l1.9 4.9l1.1 3.4l0.6 3.1l0.2 2.8l0 4.6l-0.6 9.3l0.3 11.4l-0.3 3.4l-1.7 10l-0.3 6.7l0.1 5.3l1.2 9.2l3.2 18.4l3.3 17.3l1.6 6.9l0.6 3.5l0.2 5.1l-0.5 11.8l0 4.6l0.4 9.8l0.7 7.4l0.8 4.1l1.2 4.1l1.9 4.6l2.4 4.8l1.1 1.8l0.8 0.8l0.9 0.6l3 1.6l0.7 0.7l0.6 0.8l0.4 1.7l0.3 2.2l0.5 8.8M574.4 653.4l2.9 10.2M571.9 430l-2.3 8.1l-1.5 4.6l-1.2 2.3l-2.7 4.6l-1.1 2.8l-0.2 1.3l0.1 2l1.5 8l0 1.8l-0.3 1.5l-1.3 2.9l-3.1 5l-3.2 6l-0.9 2.4l-0.4 2.2l0.3 3.1l1.1 4.9l2.8 8.3l0.6 2.1l0.4 2.3l0.1 4.1l-0.5 12l0.1 2.4l0.3 1.8l0.7 1.9l1.6 2.1l2.2 1.7l1.8 0.6l1.3-0.3l1.3-1.1l0.9-1.6l0.3-2l-0.6-2.3l-3.2-7.5l-1.1-3l-0.2-1.2l0.1-1.5l0.8-2.9l3.8-7.3l6.8-11.2l4.6-9.7l1.1-1.9l2.8-3.6l6.3-5.7l1.4-1.6l1-1.4l0.9-2.3l1.8-7.5l0.4-2.3l0.1-1.8l-0.2-2.5l-0.5-2.6l-1.6-5.9l-4.2-12.1M570.6 455.4l0.5-1.3l1.1-2.1l1.4-2l0.8-1l2.8-1.2l3.7-0.8l0.8 0l0.6 0.1l1.4 1.3l2.4 2.9l1 2.1l-0.1 1.6l-0.7 2.9l-0.9 2.3l-0.8 1.5l-1.3 1.1l-2.5 1.6l-3.3 1.7l-1.8 0.7l-0.9-0.1l-1-0.5l-1-0.7l-0.9-1.2l-1-4.7l-0.3-2.5l0-1.7zM570.6 545.5l1.7-2.2l3-3.2l0.4-0.4l0.5 0l0.5 0.3l0.7 1.2l0.1 0.5l-1.7 2.7l-1.9 2.2l-0.7 0.3l-1.4-0.3l-1.1-0.7l-0.1-0.4zM668.4 477l0.5-1.2l1.1-1.6l1.2-1.4l1-0.9l2.5-0.6l3.1-0.1l1 0.4l1.5 2.1l1.7 3.4l0.3 1.5l-0.8 2.7l-0.8 1.7l-0.9 1.6l-1.1 0.9l-1.6 0.9l-1.6 0.6l-0.8 0.1l-1-0.5l-1.4-1.1l-1.8-1.7l-0.9-1l-0.5-1.3l-0.5-1.9l-0.3-1.8l0.1-0.8zM682.3 586.2l-5.3-5.4l-1.6-1.2l-1.2-0.4l-0.5 0.1l-0.9 0.4l-2.6 2.4l-5.3 2.4l-1.5 0.4l-0.9 0l-1.3-0.2l-1.3-0.6l-1.8-1.2l-1.8-1.4l-1.9-1.7l-0.9-1.1l-1.5-2.2l-2.9-4.8l-2.4-4.7l-0.9-1l-0.7-0.3l-0.8 0.1l-1.6 0.5l-1.6 0.8l-1.9 1.3l-1.3 1.5l-2.2 3.4l-1.3 1.3l-0.7 0.2l-1 0l-2.2-0.7l-2-1.2l-1-1l-0.6-1.7l-1-4.2l-0.7-1.4l-1.2-1.5l-5.1-5.2l-0.5-0.9l-0.2-0.6l0-0.9l1.9-3.6l3.3-8.8l1.8-3.9l1.5-1.9l3-2.5l0.8-1.1l0.5-1.5l0.8-4.2l0.5-1.2l0.5-0.3l1 0.1l1.6 0.8l2.4 1.8l2.6 2.4l1.9 2l4.4 5.5l2.5 2.3l2.6 2l5.6 3.7l4.8 3.5l2.3 1.1l1.7 0.2l2.3-0.6l2.9-1.5l5.4-3.5l3.2-2.5l3.9-3.6l2.8-3.2l6.1-8.4l6-9.7l3.9-4.4l1-1.6l0.6-1.8l0.4-5.9l0.5-1.6l0.8-0.7l1.1-0.5l1.3-0.4l1.3-0.2l1.5 0.3l0.3 0.3l0.3 0.5l0.2 1.3l-0.1 4.9l0.2 1.7l0.4 0.8l1.3 2l5.1 6.2l1.5 2.6l1.4 3.3l1.3 3.8l1.1 4.5l0.7 3.7l0.2 3.5l0 2.8l-0.2 2.8l-0.4 1.8l-0.5 1.2l-0.7 0.7l-0.9 0.5l-4.1 1.9l-4.8 3l-1.5 1.3l-0.4 0.7l0 0.6l0.6 1.1l1.6 1.6l4.9 4l4.1 2.6l1 1l0.4 0.8l0.2 0.8l0 1.4l-1.3 7l-0.5 6l0.1 3.3l0.4 1.2l0.4 0.7l0.6 0.4l0.8 0.4l2.2 0.5l3 0.2l3-0.3l1.1-0.3l1.6-0.8l3.7-2.7M692.5 616.6l0 16.5l0.3 2.8l1 6.6l0 3l-0.4 1.4l-0.7 0.9l-0.8 0.7l-2.6 1.8l-1 1.1l-1.3 2l-0.2 0.9l0.1 0.4l0.8 1.2l1.4 1.2l1.1 0.5l0.5 0.1l0.9 0l2.1-1.1l3.9-3.2l3.4-3.8l1.7-1.2l2.9-1.3l2.9-0.9l2.4-0.4l1.1 0.2l0.6 0.8l0.5 1.7l-0.1 1.2l-0.3 1.5l-1.4 2l-3.6 4l-4.7 6.4M701.9 576l0.7-3.1l0.7-1.7l0.6-1l1.3-0.7l1.9-0.4l1.6-0.1l0.5 0.3l1 2.7l0.6 2.7l-0.8 3.3l-0.6 1.7l-0.4 0.6l-0.7 0.4l-1.8 0.7l-1.8 0.3l-0.8-0.1l-0.4-0.6l-0.7-1.6l-0.6-2l-0.3-1.4zM717.4 614.8l0.3-0.5l1.4-1.1l1.7-0.9l0.9-0.2l1.7 0.4l2.4 1.1l2.1 1.1l0.7 0.7l-0.6 0.8l-2.1 1.5l-1.7 1.1l-1.2 0.4l-1.1-0.5l-2.1-1.5l-1.8-1.6l-0.6-0.8zM530 590.4l11.4-1l2-0.6l2.8-1.1l0.7-0.1l0.3 0.1l0 0.7l-0.6 1.7l-3.9 7.5M636 663.6l0.8-9.9l0.6-5.2l0.7-3.3l0.9-2.7l2-4l1.3-1.9l1.1-1.4l1.3-1.1l1.4-1l1.4-0.6l1-0.1l0.8 0.2l1 0.6l1.1 1l1.5 1.7l2 3l0.6 1.4l0.3 1.3l-0.1 2.9l-1.3 6.4l-1.4 12.7M790 461.7l-7.3 5.4l-9.1 4.9l-4.1 3l-3.1 2.6l-1.9 1.9l-1.2 1.6l-1.4 2.6l-1.3 3.5l-0.8 3.7l-0.1 4.7l0.5 5.6l0.6 3.6l0.6 2.8l1 2.4l2.8 6.2l0.9 2.7l1.5 7.2l0.2 2.7l-0.1 1.8l-0.5 1.3l-1.1 0.8l-1.5 0.4l-5.7 0.9l-3 1.3l-2 1.1l-1.2 0.9l-0.8 1l-0.5 1.5l-0.3 1.6l0.2 1.8l0.5 1.4l1.6 2.4l1.9 2.1l1.6 1.6l1.6 1.2l2.2 1l2 0.5l2.7 0.2l2.8-0.4l1.7-0.6l5.5-2.3l4.8-1.3l9.8-0.9M790 562l-2.6 3.9l-0.8 1.6l-0.2 0.9l0.2 0.9l0.8 1.5l2.6 3.9M771.2 611l3.3 0.1l2.5 0.3l1.8 0.5l1.3 0.6l0.6 0.7l0.8 1.2l1.5 4.2l0.9 1.8l2 2.6l4.1 4.5M745.8 661.1l3.3-1.2l1.8-0.1l2.8 1.1l4.9 2.7M739.5 587.4l3.7 5.6l2.1 4.3l0.8 1.2l2.1 2.3l2.3 2.1l5.3 3.6l1.1 0.9l1.9 2.5l1.4 2.7" stroke="#858585" stroke-width="0.65"/>
<path d="M696.8 476.5l36.3 0.5l56.9 1.2M696.8 476.5l-0.5 64.5l-60.9 1l-1.3 35.3" stroke="#444444" stroke-width="0.8"/>
<path d="M634.1 430l-1.3 3.8l-11.4 8.9l-6.3 12.7l-7.5 12.7l-1.4 20.3l-5.1 15.2l-10.2 20.3l-2.5 17.8l-1.3 14l1.3 1.3M752.2 430l-3.3 15.2l-7 15.3l-5.6 8.2l-3 5.7l-0.7 1.3l-1.5 5.3l-1.8 4.9l1.3 17.7l2 20.3l1.8 12.7l8.9 12.7l5.1 12.7l8.8 12.7l0.6 15.3M757.9 590l0.9 2.3l1.7 0.3l6.2 7.1l0.3 4.4l0.8 3.2l-1.7 2.6l-2.1 1.5l-0.9 1.5M758.8 593.2l4.3 7.3l2.7 0.3M763.1 600.5l-0.5 1.5l-2.7 0.3l-1.7 2.3l-1.8 3.6l-1 2.9l0.7 1.8M762.6 602l-3 8.8l-0.3 1.8M767.8 607.3l2.7-2.7l4.7-2.6l2.9-2.3l2.9-3.8l3.5-2.4l0.6-3.5" stroke="#303030" stroke-width="1.05"/>
<circle cx="639.7" cy="505.4" r="0.6" fill="#777" stroke="none"/>
</g>
<g clip-path="url(#cD1)" fill="none" stroke-linejoin="round" stroke-linecap="butt">
<path d="M770 137l4.5 1.8l3.2 0.5l1.6 0l1-0.2l0.8-0.3l0.7-0.6l1.7-2.2l1.3-2.8l1-4.3l1.3-8.2M840.1 120.7l2.4 7.1l1.6 4.1l7.6 15.1l2.3 5.8l0.9 1.8l1.3 2l1.8 2.1l8.3 8.4l4.9 5.6l2.4 3.1l3.1 4.3l1.7 2.7l3.2 7.5l2.1 3.4M803.1 174.4l0.9-4.9l0.5-1.6l0.7-1.3l1.7-2.1l1.9-2.1l2-1.6l1.8-0.9l3.1-1.3l3.4-0.9l2.7-0.4l2.1 0l1.8 0.4l2.5 1l1.8 1.1l1.8 1.5l2.3 2.4l1.6 1.8l0.7 1.3l2.4 5l7.2 9.7l2.4 3.5l1.4 2.5l2.3 5.8l4.7 9.4l1.9 4.3l0.4 2.3l-0.3 5.2l0.3 1.6l0.4 1.2l1.1 2.3l5 8.7l3.2 6.7M803.1 174.4l2.9 7.5l3.6 6l0.8 1.6l0.3 1l-0.3 0.9l-0.6 0.5l-3.1 1.8l-1.3 0.9l-1 1.3l-1.6 3.1M797.2 226.2l-3.8 8.8M799.2 235l1.2-5.1l1.3-4.1l2.8-7.1l3.4-7.7l1.7-4.9l0.5-0.6l0.7-0.2l1 0.3l2.9 1.6l1 0.2l0.6-0.4l0.7-1l0.6-1.3l2.1-5.9l2.9-7.3l2.5-3.9l1.2-1.1l0.8-0.2l0.6 0.2l0.4 0.4l1.3 2l3.5 6.5l4.5 7.8l1.8 3.8l0.6 1.8l0.3 2.6l-0.2 7.6l0 2.1l0.2 1.3l0.6 1.5l0.9 1.3l1.3 1.6l3.2 3.4l4.8 4.8M803.1 235l1.7-5.2l3.2-8.1l0.8-2l0.7-0.9l0.6-0.3l0.4 0l0.9 0.5l2.4 1.8l1 0.3l0.9 0.1l2.2 0l1.6-0.3l1.5-0.5l1-0.8l0.7-1.2l0.7-2.1l3.3-11.6l0.8-1.3l0.7-0.2l1.5 0.6l1 0.8l0.9 0.9l0.8 1.6l0.8 2.6l0.5 2.8l0.1 2l-0.3 2.6l-0.6 3.8l-0.1 2l0.4 2.7l0.7 2.6l0.8 1.7l1 1.3l1.9 1.7l2.7 2.1M807.4 235l0.6-3.4l0.6-1.8l0.8-1.4l0.7-0.6l1.4-0.6l1.7-0.4l10.5-1.5l1.6 0.2l0.8 0.6l0.6 0.8l2.6 4.9l1.1 3.2M813.6 235l0.3-2.5l0.6-1.6l0.3-0.3l0.8-0.3l2.4-0.2l2.4 0.2l0.8 0.3l0.3 0.3l0.3 1.2l0 2.9M770 222l4.1-0.2l2.3 0.1l2.7 1.1l1.5 0.9l0.9 0.7l0.5 0.7l0.5 1l0.5 2.3l0.3 3.3l-0.2 3.1M873.6 120.7l1.8 8.3l1.2 3.9l4.6 9l5.3 11.5l3.5 7.1" stroke="#858585" stroke-width="0.65"/>
<path d="M774.4 192.7l3.2-5.1l6.3-5l8.8-4.4l8.9-3.8l10.1-2.6l11.4-1l5.6-0.9l7-5l10.1-6.3l8.8-4.4l3.8-5.7l1.5-8.2l-1.5-12.7l-3.5-6.9M770 206.1l88.4 2.4l31.6 0.6" stroke="#444444" stroke-width="0.8"/>
<path d="M770 186.4l2.5 3.2l1.9 3.1l2.5 25.9l-2.1 7.6l-1.3 8.8" stroke="#303030" stroke-width="1.05"/>
</g>
<g clip-path="url(#cD2)" fill="none" stroke-linejoin="round" stroke-linecap="butt">
<path d="M873.2 120.7l1.7 8.1l0.6 2.1l0.9 2l4.5 8.6l6.3 13.1l11.9 20.1l2.3 4.3l1.8 4.2l2.8 7.6l1.7 6.2l1 5l0.7 7.7M870 173.1l5.6 6.6l2.9 4.2l2 3.6l2.8 6.4M894 220.5l2.9 8.2l2 6.3M892.1 120.7l0.8 2.2l1.1 1.6l1.1 0.7l5.2 2.6l1.1 0.8l0.4 0.7l-0.1 1.5l-1.3 3.9l-1.1 5.2l0.3 2.4l1.1 3l1.5 1.9l5.4 4.1l2.1 2.2l1.3 1.7l0.9 1.3l0.6 1.2l0.3 1.5l0.4 4.4l0.6 1.7l1 1.2l2.5 2.1l1.7 1.8l1.7 2.1l1.1 1.9l0.6 1.8l0.7 3.7l0.6 2l3.2 6.3l0.7 1.8l1.8 7.1l2.8 7.9l1.2 4.3l0.7 3l0.4 2.9l-0.4 8l0.3 2.2l1.2 2.5l5 7.1M906.6 120.7l4.9 0.2l2.1 0.4l1.6 0.7l1.5 0.9l0.8 0.7l0.5 0.9l0.1 1.6l-0.6 2.6l-1 3.6l-2.5 6.2l-0.5 2.3l0.3 2.1l0.9 3.1l2.3 9.4l1.7 5.6l0.8 1.8l0.7 1.2l1 1.2l2.7 2.5l4.2 4.2l1.4 1.7l1 1.7l2 6.6l3.1 7.2l0.3 1.9l0.1 4.2l0.3 1.9l0.8 1.8l2.4 4.4l0.9 2.3l2.2 7.3l0.4 3.1l0.3 0.1l0.5-0.4l2.5-2.7l1.3-1.1l0.7-0.3l0.4 0.1l0.7 0.5l2.7 3.9l4.8 5.9l2.7 4l1.2 2.3l0.6 1.4l1.5 5.3M924.3 120.7l5.1 6.3l2.4 4.1l1 1.2l1.5 1.1l4.7 1.8l1.3 0.9l0.7 0.7l1.4 2l2.9 5.6l1.1 1.5l0.6 0.4l0.5 0.2l3.3-0.8l4.4 0.4l2 0.5l1.7 1.2l2.3 3l1.5 3.3l0.8 1.3l4 3.9l1.3 1.5l7.3 10.9l0.8 1.8l0.7 3.7l0.4 4.1l-0.6 4.4l0.3 1.1l0.7 1.5l0.2 1.2l-0.2 1.2l-1.3 3.5l-0.4 1.6l0 5l0.5 4.3l0.7 2.4l3.3 6l2.5 6.3l2.5 3.8M924.3 147.8l0.5 0.3l1.1 1.2l3.5 4.7l1.2 1.8l0.7 1.5l0.6 3.4l0.1 2.8l-0.1 0.8l-0.3 0.5l-1 0.7l-0.6 0.1l-1.3-0.1l-2-1.3l-2.4-2.5l-0.9-1.3l-0.6-1.5l-0.4-2l0.2-2.7l1-5.4l0.4-0.9l0.3-0.1zM946.4 165.5l0.4-1.8l0.6-1.6l1.5-2.5l0.8-0.9l0.8-0.6l1-0.2l0.7 0.3l5 3.5l4.2 2.3l2.1 1.5l0.8 1.2l0.7 1.4l3.3 8.4l0.9 3.4l0.2 3.8l-0.4 2.9l-1.4 4l-0.4 1.9l-0.5 4l0 3.6l0.4 4.8l0.8 3.6l0.8 1.9l2.7 4.8l0.4 1.3l0.4 2.1l0.2 3.2l-0.1 2.4l-0.7 3.3l-0.5 1.1l-0.4 0.6l-0.5 0.1l-0.8-0.8l-3.4-4.9l-2.9-3.8l-1.3-2.1l-1-2.5l-0.5-2.7l0.1-1.9l0.7-1.4l1.9-2.7l0.5-1.2l-0.1-0.4l-0.3-0.9l-1.7-2.2l-0.5-0.9l-0.2-1.4l-0.1-3.5l-0.1-1l-0.4-0.9l-1.6-2.2l-2-1.7l-1.3-0.7l-3.5-1.4l-2.1-1.4l-1.5-1.5l-1-2l-0.6-2.8l-0.3-4.5l-0.1-5.9l0.3-4.5zM956.5 120.7l4.4 1.9l4.5 1.6l1.9 0.9l2.1 1.7l4.3 4.1l0.8 0.5l0.3 0l0.9-0.3l1.5-1.1l1.2-1.3l0.3-0.9l-0.3-1.5l-1-2.5l-1-1.3l-1.6-1.8" stroke="#858585" stroke-width="0.65"/>
<path d="M913.6 120.7l0 19.6l-0.7 25.2l-0.3 43M870 208.5l39.4 1.2l3.2-1.2M909.4 209.7l0.8 12.7l-0.9 12.6" stroke="#444444" stroke-width="0.8"/>
</g>
<g clip-path="url(#cD3)" fill="none" stroke-linejoin="round" stroke-linecap="butt">
<path d="M812.3 235.7l0.9-3.2l0.5-1.2l0.5-0.6l1.8-0.4l2.8 0l1.7 0.1l0.7 0.3l0.1 0.2l0.5 1.6l0.1 2.7l-0.2 1.5l-0.4 0.4l-2.6 0.4l-5.1-0.1l-0.6-0.2l-0.4-0.4l-0.3-1.1zM806.7 241.4l0-3.3l0.4-3.8l1.1-3.6l0.7-1.4l0.6-0.8l0.7-0.6l1.2-0.6l3-1.1l4.4-1l4-0.4l1.4 0.1l0.8 0.3l1.3 1.1l1.9 3.2l1.8 4.3l1.1 1.6l1.9 1.5l5.2 3.3l2.8 2.1l1.4 1.3l1 1.8l0.5 2.1l-0.2 1.3l-1 1.4l-1.4 1.1l-1.9 0.6l-3.3 0.4l-2.6-0.3l-2.6-0.8l-4.1-1.6l-6.3-3.1l-5.4-2.3l-1.9-0.4l-5.3-0.5l-1-0.5l-0.3-1.4zM806.3 225l-2.6 8.4l-3.2 12.4l-0.9 2.5l-0.9 1l-0.9 0.5l-4.4 1.1l-0.9 0.4l-0.8 0.5l-1.7 1.8l-1.3 1.9l-0.4 1.1l0.3 0.8l1.5 0.8l2.2 0.3l4.4-0.1l3-0.5l1.3-0.7l1.2-1.3l3.1-4.2l1.3-1.4l1.4-0.9l1.7-0.6l1.6-0.4l1.5 0l2.1 0.5l3.9 1.7l10.4 5.3l8.5 3.9l3.3 0.9l4.3 0.4l2.3-0.2l1.7-0.4l1.6-0.6l1.2-0.8l1-1.2l0.7-1.6l0.2-1.6l-0.3-1.3l-0.9-2l-1.8-3.2l-1.7-2.5l-1.9-2.6l-6.8-7.1l-3.8-3.1l-1.3-1.3l-0.4-0.7l-0.4-1.2l-0.9-4.7M801.5 225l-1 4.6l-1.3 3.8l-2.5 5.4l-2.5 4.5l-1.6 2.1l-1.5 1.4l-4.8 2.6l-1.1 0.9l-2 2l-1.5 2.2l-0.4 1.3l0 1l0.5 1.6l0.8 1.3l1.4 1.4l1.5 0.9l1.6 0.7l1.4 0.3l2.4 0.2l6.1 0l6.7 0.2l3.5-0.3l1.2-0.5l1-1.1l1.5-3.9l1.7-3.4l0.6-0.6l0.4-0.2l0.8 0l1.6 0.4l2.8 1.3l1.7 1l1.8 1.2l2.6 2.4l4.2 4.8l3.5 3.2l1.8 0.9l2.9 0.3l4.7-0.3l4.1-0.8l4.4-1.5l4.6-2l2.1-1.4l1.3-1.6l1.2-2.3l0.6-2.4l-0.3-2.3l-1.6-5.3l-1.2-7.9l-0.4-1.4l-0.5-1.2l-0.6-0.9l-1.2-1l-3.4-2.5l-5.7-4.5l-5.4-4.6M797.1 225l-1.5 4.9l-1 2.7l-2.1 4.1l-2.3 3.5l-2.1 2.2l-3 2.5l-2 1.5l-6.1 3.3l-1.1 0.9l-1.3 1.7l-1.2 2.4l-0.2 1.7l0.5 2l1 2l1.6 1.8l2.7 1.8l3.4 1.6l3.3 0.9l3.3 0.7l2.9 0.3l17.3 0.6l2.9 0.3l1.3 0.3l1.5 0.6l5.6 3.1l3.5 1.3l3.1 1l4.1 0.6l6.3 0.5l4.1 0.2l1.4 0.2l0.6 0.3l0.3 0.4l0.4 0.9l0.2 3.5l0.4 3.2l0.3 1.7l0.4 0.9l0.8 1.2l1.4 1.1l1.5 0.8l1.1 0.4l0.9 0.1l1.4-0.2l3.2-1.1l1.7-0.9l2.7-2l1.3-0.6l2 0l2.3 0.5l1.9 0.7l1.8 1.2l0.8 1.1l0.1 1.3l-0.4 1.6l-0.9 1.5l-1.3 1.1l-4.1 2.7l-1.9 1.6l-6.6 7.3l-12.8 12.6l-1.5 2.1l-1 1.9l-0.6 2.3l0 1.6l0.4 1.1l0.3 0.5l1.6 1.6l1.9 1.3l2.2 0.9l3.7 0.2l16-0.4l2.3 0.3l3.1 1.2l2 1.1l1.6 1.1l1 1.1l0.6 0.9l0.9 2l0.4 1.9l-0.2 1.3l-0.5 1.9M782.2 225l0.9 4.7l0.2 2.1l-0.2 3.2l-0.3 1.6l-0.4 1l-1.4 1.8l-2.3 2.2l-3.2 2.6l-5.5 3.7M770 265.8l3.5 2.3l2.6 1.4l2.3 1l3.8 1.1l4.1 1.1l2.3 0.4l8.8 0.5l5.2 0.5l3.1 0.5l2.3 0.9l5.3 2.8l2.3 0.8l7.5 1.5l5 0.3l1.9 0.3l2.4 1.2l1.7 1.5l0.9 1.6l1.7 4.8l0.9 1.6l1.1 1.2l1.4 1l3 1.9l2.8 1.5l0.5 0.8l0.4 1.8l0 2.3l-0.4 2.2l-0.8 1.6l-1.2 1.8l-3.7 4.3l-12.4 12.1l-0.5 0.7l-0.3 1l0 1.8l0.4 1.7l0.6 1.7l0.8 1.5l1.9 2.6l2.8 2.9l6.1 5.2l0.1 0.2l-0.1 1l-0.7 0.3M863.8 225l2.9 5.5l0.9 2.5l0 3.7l-0.5 5.7l-0.5 4.3l0 1.9l0.2 0.9l0.4 0.9l2.1 2.7l0.5 1l1.4 4.6l0.4 2.1l0.1 1.4l-0.4 1.1l-0.8 2l-0.1 0.7l0.2 0.4l0.6 0.8l0.8 0.7l1 0.5l1 0.1l1.5-0.2l7.4-1.8l1.4 0.1l0.9 0.9l1.6 2.9l3.2 3.2M890 293.1l-4.7 1.5l-2 0.7l-3.1 1.6l-2.8 1.8l-2.1 1.5l-6.8 5.6l-18.8 12.7l-1.1 0.9l-1 1.2l-0.9 1.6l-0.3 1l0 0.5l0.2 0.8l1.2 1.6l2 1.4l1.4 0.5l3.6 0.3l4.9-0.4l1.5-0.4l4.6-1.8l1.9-0.3l2.1 0.3l2.1 0.7l2.9 1.2l3 1.6l2.3 1.5l1.4 1.2l1.2 1.6l0.6 1.3l0.4 1.6l0.1 1.3l-0.1 7.3M890 300.6l-4.2 0.6l-2.1 0.5l-2.7 1.1l-2.3 1.5l-2.9 2.4l-3.7 3.6l-6.7 6.9l-2.7 3.3l-1.4 1.3l-0.8 0.4l-1.1 0.1l-2.4 0l-2.4-0.3l-0.8-0.3l-0.2-0.5l0.4-0.8l1.1-1.2l4.1-3.3l1.6-0.7l1.5 0l4.2 1.7l3.6 1.8l9.8 5.7l6.3 3.3l1.6 1.1l2.2 1.7M890 305.8l-3.5-0.2l-1.8 0l-1 0.2l-1.4 0.7l-2.2 1.7l-2.6 2.6l-1.1 1.7l-0.3 0.9l-0.1 0.9l0.4 2.1l0.4 1l0.6 0.7l2.6 1.8l2.9 1.2l2.8 0.6l1.6 0l0.8-0.1l0.8-0.7l1.1-2.4M890 333.6l-2.6 3.2l-1.2 1.9l-0.7 2l-1.2 4.3" stroke="#858585" stroke-width="0.65"/>
<path d="M775.9 225.1l-1.8 5.7l-1.5 9.1l-2.6 3.8M770 313.6l6.9 5M770 325l5.1 3.6l6.8 3.9l1.7 4.3l5 3.8l4.6 4.4" stroke="#303030" stroke-width="1.05"/>
<circle cx="799.7" cy="289.2" r="0.7" fill="#222" stroke="none"/>
</g>
<g clip-path="url(#cD4)" fill="none" stroke-linejoin="round" stroke-linecap="butt">
<path d="M895.4 225l2.9 7.8l2.2 8.7l1.1 3l1.2 2l1.9 1.9l1.7 1l1.5 0.4l0.6-0.4l0.3-0.7l0.3-1l0.1-1.8l-0.2-2l-1.4-6.6l0-2.6l1.1-5.2l1.5-4.5M870 255.3l1.2 4.1l0.3 2.2l-0.4 2.3l-1.1 3.4M870 268l3.9 0.1l2.4 0l6.5-1.6l1.3-0.1l0.8 0.3l1.3 1.4l2.7 4.9l8.6 11.6l1.2 1.4l0.8 0.6l1.5 0.7l3.6 1l2.8 0.5l1.5 0.6l1 1l3.4 4.4l8.9 8.7l1.2 1.5l1 2.1l0.5 2.1l0 1.4l-0.4 2.2l-0.8 1.9l-0.7 0.8l-2.8 2l-0.8 1.4l-0.2 1.1l0.2 1.5l0.5 1.1l0.8 0.8l0.8 0.1l1.9-0.9l2-1.5l1.1-1.1l0.7-1.3l1.3-3.6l2-4.3l0.9-1.8l0.9-1.1l1.5-0.8l3-0.9l1.2-0.2l0.5 0.2l0.3 0.3l0.6 1.5l2.6 14.3l1.6 7.2l0.4 2.9l-0.2 3.9l-0.9 4.6l-0.6 1.6l-1.4 2.5M934.6 225l3.9 7.6l0.9 1.2l2.6 2.7l0.7 1.1l0.1 1.5l-0.6 4.4l0.4 1.4l0.7 1.4l2.4 3.5l3.2 4.3l2.2 3.5l1.3 1.7l1.5 1.4l4.4 3.1l1 1l0.4 0.6l0 0.4l-0.3 0.9l-3 2.9l-0.5 0.9l-0.9 3.2l0 2.2l0.3 0.9l0.9 1l4 2.2l1.5 1.3l2 2.4l1 1.9l0.5 2.3l0.8 6.6l1.9 8.8l0.9 8.9M967.3 341.2l0 3.8M959 225l7.2 14.4l1.4 2.3l1.4 1.6l2.1 1.4l1.7 0.7l1.6 0.4l1.4-0.1l3.6-1.1l1.4 0.2l1.9 1.1l1.6 1.2l1 1.3l1.5 2.5M967.3 225l2 3.9l0.5 0.5l0.4 0.1l1-0.6l1.1-1.4l0.2-1l-0.2-1.5M870 302.7l6.8-4l6.3-3.3l3.8-1.7l2-0.3l1.9 0.3l2 0.8l3.8 1.9l2.8 1.7l1.8 1.1l2 1.6l2 2l1.2 1.4l1 1.9l0.4 1.6l0.1 1.5l-0.3 1.3l-0.8 1.3l-1.4 1.6l-4 2.8l-1.4 1.4l-0.7 1.4l-0.5 1.6l-1.3 6.1l-0.2 3.1l0.5 4.1l0.8 3.5l2.3 7.6M870 309.7l3.7-3l3-1.9l8.3-3.4l2.2-0.6l2.6-0.4l3 0.1l1.6 0.4l0.9 0.5l1.5 1.3l1.7 1.7l0.9 1.3l0.3 1.2l-0.4 1.4l-2.1 3.9l-2.6 6.3l-1.2 6.3l-0.3 4.3l-0.7 1l-1.3 0.8l-1.1 0.2l-1.2 0.1l-1.4-0.4l-1.1-0.9l-3.3-3.3l-1.6-1.3l-2.4-1.3l-5.2-2.2l-1.6-1l-2.2-1.7M876.3 313.4l0.4-1.3l0.7-1.4l0.7-0.9l1.1-1l1.7-1l2.6-1.1l1.9-0.7l2.1-0.5l2.2-0.2l1.1 0.5l0.4 0.7l0.3 1l0.3 3l-0.2 2.6l-0.9 2.6l-2.5 5.9l-0.5 0.9l-0.6 0.4l-1.4-0.1l-1.6-0.7l-3.5-1.9l-2.4-1.6l-0.6-0.7l-0.8-1.4l-0.4-1.6l-0.1-1.5zM870 324.8l3.5 1.4l2.3 1.3l5 3.5l1.9 1.8l1.6 2.4l1.4 3l0.7 3l0.5 3.8M870 332.4l3.6 1.8l0.8 0.7l0.9 1.2l0.9 1.9l0.9 2.4l0.5 4.6M885.2 345l2.1-4.2l1.4-2.4l2-2.3l1.3-0.8l0.4 0l0.3 0.2l0.7 1.4l1.9 8.1M913 345l-0.5-3.5l0.2-1.1l0.3-0.5l0.9-0.9l2.1-1.4l2.2-1.1l1.4-0.3l1.3 0.3l1.3 1l1.5 2l0.8 1.7l0 0.5l-0.4 1.1l-1.6 2.2" stroke="#858585" stroke-width="0.65"/>
<path d="M910 225l-0.6 15.2l-1.1 104.8M909.4 240.4l77.4 0" stroke="#444444" stroke-width="0.8"/>
</g>
<g clip-path="url(#cH1)" fill="none" stroke-linejoin="round" stroke-linecap="butt">
<path d="M782 418.4l9.9-10.9l3.8-4.4l3.8-5.4l3.1-5.5l1.9-4.1l2.1-6.4l3.2-11.3l3-9.7l2.3-6l0.8-1.7l0.8-1.2l1.9-1.9l1.9-1l2.3-0.5l5.6-0.6l2.5-0.6l4.6-1.6l2.7-1.4l0.7-0.6l0.2-0.8l-0.4-0.6l-4.2-3.4l-3.2-3.8M796.7 455l1.9-7.7l1-3.2l1.7-3.5l2.8-4.6l4-5.8l6.4-8.5l5.1-7.4l1.3-1.3l2-1.7l2.2-1.5l2.2-1.2l2.2-0.8l3.3-0.6l4.1-0.2l3.2 0.2l2.6 0.5l2.3 0.8l4.4 3.1l0.8 0.4l0.9 0.1l1.4-0.5l1.5-0.8l2.3-1.5l2.8-2.5l1.4-0.9l1.3-0.4l2-0.4l3.8-0.1l2.9 0.6l4.2 1.6l2.2 1.1l5.2 3.2l1.6 0.8l2.3 0.4l4 0M809.5 455l2.2-9.2l0.9-2.2l1.3-2.2l2.5-3.4l3.3-3.8l5.9-5.7l3.5-2.9l0.4-0.8l-0.2-2.3l0.1-1l1.2-1.3l0.9-0.5l0.4-0.1l0.7 0.6l0.3 0.6l0.2 0.6l0 1.1l-0.5 2l-1.3 3.3l-2.4 3.9l-0.8 1.8l-0.7 4.2l-0.1 2.2l0.2 1.2l0.8 1.6l2.4 2.2l0.9 0.5l1.5 0.5l3 1.4l1.5 1l0.5 0.7l0.6 1.5l1 4.5M876.8 335l0.7 2.4l-0.1 1.4l-0.8 2l-4.4 8.4l-1.4 3.5l-0.4 1.2l-0.2 2.3l0.1 1.7l0.3 1.5l0.5 0.9l0.9 1l5.4 3.1l6.7 4.6l5.9 4.5M882.4 335.2l-2.5 7.9l-2.2 5.4l-0.3 1.8l0.1 1.4l1 2.5l1.7 2.5l1.4 1.4l4.6 3.4l3.8 3.8M887.5 335l-3.1 7.2l-0.7 3.1l-0.2 2.6l0.2 1l0.5 1.4l1.9 3l1.9 2.5l2 1.3" stroke="#858585" stroke-width="0.65"/>
<path d="M841.4 383l4.4 2.5l12.6 0.4l11.4 3.4l10.1 2.1l10.1 1.9" stroke="#444444" stroke-width="0.8"/>
<path d="M783.5 335l2 3.2l9.8 8.2l17.6 13.9l13.9 11.3l14.6 11.4M841.4 383l3.1 8.8l3.8 11.4l2.3 7.6l-1.7 8.8l-5 10.1l-3.8 1.9l-2.5 5.7l-1.2 5.1l-2.9 1.2l-0.2 3.8l1.3 3.8l1.8 3.8" stroke="#303030" stroke-width="1.05"/>
</g>
<g clip-path="url(#cH2)" fill="none" stroke-linejoin="round" stroke-linecap="butt">
<path d="M870 360.9l5.9 2.7l3.3 2l3.8 2.9l7.2 6.3l6.9 4.5l2.8 2.2l2.4 2.1l1.5 1.8l1.1 2l0.5 2.1l-0.1 0.8l-0.5 1.3l-2.6 4l-2.9 5.9l-3.1 5.5l-1.2 1.6l-1.9 1.9l-1.7 1.4l-1.7 1.1l-0.8 0.2l-0.9 0.2l-1.1-0.1l-1.7-0.5l-3.4-1.4l-3.7-2.4l-1.8-1l-2.1-0.6l-4.2-1.1M875.7 335l1.1 3.4l0.2 1.1l-0.1 0.9l-0.8 1.8l-1 2l-1.6 2.6l-1.9 2.7l-0.8 1.4l-0.5 2.5l-0.3 5.6M882.6 334.8l-1.9 6.1l-2 5l-0.9 2.7l-0.2 1.4l0 1.2l0.5 2.3l0.8 1.5l0.8 1.2l2.4 2l8.6 6.1l2.9 1.3l2.1 0.5l0.8-0.2l1.2-0.7l1.1-1.2l1-1.5l0.9-2.2l0.7-4.2l0.2-3.5l-0.3-3.8l-0.6-3.7l-1.4-6.1l-0.6-4M891.8 336.3l-3.7 2.1l-1.1 0.8l-1.1 1.2l-1.3 2l-1.2 2.4l-0.8 2.5l-0.2 1.6l0.3 1.5l0.9 1.5l1.4 1.8l1.8 1.8l1.8 1.2l2 1l1.8 0.6l1.7 0.2l1.2-0.2l0.5-0.3l0.7-0.9l0.3-2.1l0-3.4l-0.3-3.2l-0.7-3.2l-1.4-4.5l-1.7-4.4M912.3 340.7l1.2-1.1l2-1.4l2.3-1.3l1.7-0.6l0.6 0l1.3 0.9l2.3 2.4l0.6 0.9l0.2 0.8l-0.6 1.9l-1.6 3.4l-1.5 2.5l-0.9 1.1l-0.7 0.1l-1.1-0.2l-1.8-0.8l-1.7-0.9l-1-0.8l-0.7-1.6l-0.6-2.4l-0.2-1.7l0.2-1.2zM943.1 335l0.2 2.8l-0.1 1.8l-0.7 1.8l-1.1 2l-1.7 2l-2.2 1.6l-3.1 1.9l-3.1 1.1l-1.3 0.8l-0.7 1.1l-3 7.3l-1.7 3.2l-1.3 1.5l-5.7 4.9l-0.9 1.1l-0.4 1.8l0.2 2.7l0.8 2.8l1.7 4.1l2.5 4.7l1.9 2.4l2.8 2.2l3.6 2.1l9.7 4l2.2 1.2l1.5 1.2l1.5 1.4l1.3 1.8l1.5 2.3l4.5 8.3l3.3 6.7l2.2 5.1l2 5.9l1.7 5.8l0.9 4.2l0.5 4l0.8 10.4M966.6 341.3l0.3 5.6l0.3 2.8l0.6 2.6l1 2.4l1 1.8l0.9 1.1l3.5 3.2l3.5 3.8l1 1.3l0.6 1.3l0.2 1.3l-0.1 2.2l-0.6 5.7l-0.8 4.7l0.1 2.3l1 3l2.1 4.2l3.1 5l0.7 2l1.2 4.3M898.3 455l1.9-9.6l1.7-6.7l1.9-5.7l0.8-1.8l1.2-1.9l0.9-1.1l1.5-1.2l3.8-1.8l4.4-1.4l2.6-0.4l2.1-0.1l2 0.1l2.5 0.5l2.7 1l2.3 1l1.7 1.3l2 1.9l1.4 1.9l0.9 1.8l0.3 2.1l-0.1 2.8l-2.2 9.8l-1.9 7.5M911.5 455l-0.6-6.7l0-2.1l0.7-3.6l1-3.2l1.3-2.5l1.6-1.7l1.4-0.9l1.3-0.6l0.9-0.3l1.1 0l2.2 0.3l3.6 0.9l1 0.4l0.5 1.1l0 1l-0.2 2.1l-1 5.2l-1 3.5l-2.3 7.1" stroke="#858585" stroke-width="0.65"/>
<path d="M908.5 335l-0.2 37.9l-0.7 25.3l-0.3 56.8M870 389.3l12.6 2.7l12.7 3.4l12.3 2.8l2.8 1l31.3 0.2l5.4-2.5l3.7-2.5l5.7 0l4.4 3.8l7 1l6.9-3.6l6.4-2.2l5-1.3M941.7 399.4l0.9 11.4l-0.3 22.7l-3.1 21.5M948.9 396.6l8.3 1.8l1.2 2.3l0 8.8l5.1 5.1l3.8 4.4l11.3 0.6l1 8.2l2.8 8.3l3.8 6.3" stroke="#444444" stroke-width="0.8"/>
<circle cx="891.5" cy="346.4" r="0.6" fill="#777" stroke="none"/>
</g>
<g clip-path="url(#cH3)" fill="none" stroke-linejoin="round" stroke-linecap="butt">
<path d="M770 474.1l3.3-1.8l2.6-1.7l7.6-5.7l7.3-4.9l3.4-3l1.9-2.2l1-1.8l1.3-4.8l0.5-3.2M780.7 476.6l4.1-4.1l3-2.7l2.2-1.6l0.8-0.5l1.4-0.3l4.3-0.5l1.9-0.4l2.8-1.5l2.9-2.3l1.6-2.1l2-3.6l2.1-3.1l0.6-1.5l0.3-2l-0.4-5.4M829.3 445l3.1 1l4.4 2l1.1 0.8l0.7 1.3l0.4 2.1l-0.2 1.4l-1.5 2.8l-0.7 2l-3.6 13.3l-0.4 2l-0.1 1.6l0.3 1.1l0.9 1.4l2.7 2.6l3.1 2.5l1.5 1.5l1.1 1.4l0.2 0.9l-0.7 0.9l-1.3 0.9l-9.7 5.8l-6.8 4.6l-1.8 0.8l-3.2 0.4l-1.4 0.5l-1.6 1l-2 1.8l-2.6 3.1l-3.3 5.4l-1.3 3l-1.2 3.4l-0.9 4.9l-0.4 1.4l-1.5 2.4l-1.1 1.2l-0.8 0.6l-0.8 0.3l-1 0.2l-1-0.1l-1.7-0.4l-1.7-0.9l-2.5-2l-1.5-1.6l-1.1-1.6l-4.4-8.5l-0.8-1.2l-1.3-1.4l-3.3-2.7l-1.8-1.7l-2.2-2.3l-1.6-2l-1.5-3.3l-1.2-4.1l-0.4-2.5l-0.3-5.1l-0.6-5M776.3 484.2l1.1-0.6l4.8-1.1l1.7-1l2-1.8l1.8-1.9l2.4-4.4l0.7-0.6l0.9-0.3l1.6-0.3l2.3-0.1l2.7 0.1l2.8 0.4l2.2 0.5l1.8 0.8l1.3 0.8l0.7 0.8l0.4 1.1l0.2 1.2l-0.1 4.9l-0.6 4.1l-1.4 5.2l-1.4 3.7l-1.9 3.7l-4.7 8.5l-1.3 1.9l-1.1 1.2l-0.9 0.4l-1.1-0.5l-1-1.1l-2.2-3l-1.1-1.2l-7.8-6.4l-2-1.8l-1.3-1.5l-0.7-1.2l-0.5-1.5l-0.9-3.6l-0.2-2l0.1-1.7l0.2-1l0.5-0.7zM784.5 489.8l0.1-0.6l0.8-1.2l3.5-3.8l3.6-4.8l1.4-1.3l1.7-0.8l1.6-0.1l1.3 0.7l1.3 1.3l0.5 1.2l0.2 1.6l-0.2 2.8l-0.5 2.7l-0.8 2.5l-1.2 2.8l-1.1 1.9l-0.8 0.8l-0.4 0.2l-1 0l-1.6-0.6l-6.9-3.6l-1.2-1l-0.3-0.7zM890 537.8l-3.5-1.2l-1.1-0.6l-0.8-0.7l-1.2-1.7l-4-6.4l-2.1-2.9l-7-7.9l-3.6-5l-1.3-1.3l-1.3-0.8l-2.1-0.8l-6.8-1.9l-2.1-0.3l-1.4 0l-2 0.5l-2.1 0.9l-1.4 0.8l-1.5 1.2l-1.9 1.9l-1.6 2.1l-0.9 1.7l-0.7 2.2l-0.4 2.7l0.2 2.6l0.4 2.2l0.7 1.6l0.8 1l1.5 1.3l4.3 3.2l3.9 3.6l2.4 2.7l1.5 2.3l2.3 4l2.2 3.1l0.4 0.9l0.2 1.4l0 1.7l-0.3 1.8l-0.4 0.9l-0.6 0.5l-1.3 0.5l-3.5 0.4l-4.3 0.9l-1.5 0.6l-0.6 0.6l-0.2 0.8l-0.1 1.1l0.6 5M770 550.1l2 0.8l2.2 0.7l6 1l2.4 0.1l3.8-0.5l2 0.1l1.8 0.7l1.9 1.4l1.2 1.5l0.1 0.6l-0.1 0.4l-2.6 3l-3.5 5.1M815.6 565l4.3-3.1l2.3-2.3l2.3-2.8l1.4-3.6l0.5-0.3l0.4 0.1l0.4 0.4l0.3 0.6l0.2 0.9l0.6 10.1" stroke="#858585" stroke-width="0.65"/>
<path d="M770 477.7l17.7 0.4l2.5-3.8l30.3 0.3l69.5 1M849.3 496.8l9.1-2.5l15.2-8.9l7.6-2.5l8.8-1.9M849.3 496.8l11.6 0.6l2.6 3.2l1.2 7.6l2.6 5l2.5 6.3l5 2.6l2.6 3.7l-0.7 4l1.9 2.7l-1.2 2.7l3.8 4.5l2.5-0.1l1.9 2.9l4.4 0.4" stroke="#444444" stroke-width="0.8"/>
<path d="M833 445l0.6 3.8l3.2 6.3l5.2 8.8l6.9 13.9l0.4 19M849.3 496.8l-3.5 0l-5.1 3.8l-7.5 3.1l-1.6 1.9l0.3 5.1l-1.9 10.1l-2.5 10.1l-2.6 7.6l-4.4 3.8l-6.3 5l-5 4.4l-3.2 0.7l-3.1 3.8l-1.9 5l-0.6 3.8" stroke="#303030" stroke-width="1.05"/>
</g>
<g clip-path="url(#cH4)" fill="none" stroke-linejoin="round" stroke-linecap="butt">
<path d="M900.4 445l-1.9 7.6l-3.1 7.2l-1.8 5.3l-0.2 1.4l0.1 2.1l0.4 2.3l0.5 1.5l0.7 1.2l1.4 1.7l1.2 1.1l1.4 0.8l1.7 0.5l5.8 0.8l5.1 1.3l1.7 0.8l3.6 3l1 0.6l0.5-0.1l0.8-0.4l0.7-1l0.5-1.1l1.1-5.8l1.3-2.7l2.9-4.5l4.1-4.7l1.2-2.1l0.8-2.4l1.1-4.3l1.9-10.1M910 445l1 4.5l0 4.8l-0.4 2.5l-2 3.9l-0.1 1.4l0.6 1.2l1.5 1.8l1.8 1.5l1.2 0.5l0.7-0.1l0.8-0.5l1.7-1.6l2.1-2.6l1.6-2.7l2.2-4.3l1.4-3.8l1.1-3.4l0.4-3.1M888.9 484.2l0.8-1.9l1-1.3l0.8-0.6l1.3-0.6l2.2-0.5l1.7 0l1.3 0.3l1.7 1l3.1 2.3l3.1 2.8l3 3.2l2.3 3.1l1.2 1.9l0.5 1.6l-0.1 1.5l-0.8 1.5l-0.9 1.3l-1.4 1.5l-1.9 1.3l-2 1l-1.4 0.3l-2.1-0.2l-1.5-0.4l-1.7-0.9l-1.8-1.3l-2-1.8l-1.6-2l-1.8-2.8l-0.9-1.9l-0.9-2.7l-1.1-4.2l-0.1-1.5zM870 513.8l3.4 4.1l6.6 10.2l5.4 7.1l1 0.9l0.8 0.4l5.5 2l3.8 1.7l1.5 0.3l1.1-0.5l1-1.2l2.7-3.6l2.1-1.4l3-1l3.9-0.6l3.7 0l3.5 0.6l7.3 2.4l2.5 1l1.8 1l2.9 2.1l3.3 2.9l2.5 2.4l2.3 2.8l2.1 3.3l2.2 5.4l1.1 2.1l1.9 2.9l2.8 3.9M913.5 565l-0.9-4l-2-7.7l-0.4-3.3l0.1-2.3l0.5-1.4l0.6-0.9l0.8-0.9l1.2-1.1l0.8-0.5l1.4-0.5l2.8-0.4l1.6 0.2l0.9 0.2l1.4 0.6l1.9 1.2l4.2 3.1l1.8 1.9l1.7 1.9l2.3 3.5l1.4 2.8l0.4 2.7l0.2 4.9M923 565l1.8-5.1l0.5-0.9l0.4-0.3l0.4 0.3l0.8 1.5l1.6 4.5M962.9 445l0.3 6.8l0.3 2l0.5 1.5l0.9 1.9l1.6 2.9l1.5 2.5l4.1 6l3.2 6.1l1.2 3.2l1.8 8.9l3.5 13.6l0.8 3l0.5 1l0.4 0.6l1.3 0.5l1.4 0.1" stroke="#858585" stroke-width="0.65"/>
<path d="M907.6 445l-0.7 30.3l-0.3 28.4l-3.1 1.7l-0.4 28l-0.8 31.6M870 475.3l36.9 0M870 487.3l7.6-3.1l8.8-3.2l8.9-0.6l5 1.2l6.3 3.8l6.3 3.2l7.6 3.4l17.7 0.4l11.4-0.3l8.8-4.2l8.9-2.7l6.3-2.6l12.6-0.7M941.4 445l-1.9 6.3l-1.3 41.1l0 10.7l3.2 6.3l1.2 7.6l3.2 8.8l2.5 6.4l3.2 2.7l13.9 0.4l-0.5 29.7M965.4 540l15.8 0.4l5 1.2M870 520.8l1.9-0.3l0.6 2.2l4.4 0.6l-0.6 3.8l2.5 3.7l-2.5 3.5l3.2 4.2l3.1-0.6l2.6 0.8l0.6 4l6.9 0.8l3 15.2l3.9 6.3" stroke="#444444" stroke-width="0.8"/>
</g>
<g clip-path="url(#cL1)" fill="none" stroke-linejoin="round" stroke-linecap="butt">
<path d="M795 555l-6 6.8l-2.2 3.1l-0.7 1.4l-0.4 1.3l-0.1 1.6l0.2 1.1l0.7 1.5l0.8 1.2l1.3 0.7l3.5 1.6l0.6 0.5l0.7 0.9l0.4 0.9l2.4 7.7l1 2.5l3.5 5.9l1.1 2.2l0.9 3l0.8 4.1l0.9 10l0.8 4.7l1.2 2.8l6.4 12.4l2.7 8l1.6 3.6l0.2 1l0 1l-0.4 1.9l-0.4 1.3l-0.8 1.2l-0.2 0.1l-0.5-0.3l-0.9-1.1l-2.1-3.2l-2.4-3.2l-2-2.5l-1.3-1.4l-2.3-1.9l-3.7-2.8l-6-3.9l-1.9-1.5l-2.7-2.6l-7.5-7.9l-1.5-1.8l-0.8-2.1l-0.5-3.4l0.1-3.7l-0.2-1.1l-0.4-0.2l-0.7 0.3l-4.4 3.8l-3.8 2.5M824.2 555l-0.2 2.6l-0.5 1.2l-1.4 1.1l-3.4 2.1l-1.9 1.5l-3 3l-1.6 2.4l-1.2 2.5l-0.6 2.5l0.1 2.5l0.5 2.7l0.7 2.4l0.6 1.4l5.8 9.1l1.3 2.7l0.5 2l0 2.5l-1.1 4.1l-0.2 1.6l0.6 3.5l1.1 3l1.1 1.6l3.6 3.2l1.1 1.5l1.5 2.7l1.1 2.8l1.6 6.7l1.2 2.7l12 18.3l1.4 1.8l2.2 2.1l1.5 1.1l0.9 0.3l0.6-0.1l1.1-0.4l0.9-0.9l0.6-1.6l0.4-2.3l0.3-2.4l-0.1-2.9l-0.8-7.8l-1-5.4l-1.1-4.9l-1.2-4.1l-0.9-2.7l-0.7-1.5l-2.5-3.6l-0.6-1.2l-0.3-2.6l0.2-2.7l1-4.6l0.8-2.1l0.9-1.9l1-1.6l3.1-3.6l1.5-2l2.1-3.2l1.1-2.3l0.7-3.3l1.3-11.4l0.5-1.7l1-1.3l1.8-1.3l3.2-1.6l2.2-0.7l2.1-0.2l1.7 0.5l2.3 1.5l1.8 1.6l1.8 2.2l2.7 4.3l0.9 1.9l0.6 1.8l0.6 3.1l0.7 4.7l0.3 5.5l0.6 2.8l2 4.9l5.3 10.7M828.5 555l-0.7 5.7l-0.1 1.8l0.3 1.3l0.6 1.1l1.1 1l1.2 0.9l6.4 3.7l3.5 1.6l1.2 0.3l1.2 0.1l1.7-0.2l1-0.5l0.8-0.6l0.5-0.7l0.2-1.3l0.1-2.3l0-4.9l-0.3-2.8l0.2-0.9l0.3-0.4l1-0.7l1.9-0.5l9.1-1.7M826.8 603l0.9-2.2l1-1.8l0.4-0.4l0.7 0.9l0.9 2.6l0.2 0.9l-0.4 1.3l-1.2 2.5l-0.9 1.3l-0.4-0.5l-0.6-1.7l-0.6-2.9zM890 618.2l-6.6 8l-4.8 5.3l-1 1.5l-0.6 1.3l-0.7 2.7l-0.2 3.9l0.2 1.1l1 2.9l0.1 1l-0.5 1.8l-1.4 3.6l-0.7 2.2l-1.4 10.2M788 663.7l3-4.4l1.7-2l2-0.9l2.8-0.4l1.4 0.1l1.4 0.5l1.5 0.8l1.3 0.9l1.4 1.4l2.4 4M819.9 659.2l0.6-2.4l0.3-0.7l0.3 0.7l0.4 2.4" stroke="#858585" stroke-width="0.65"/>
<path d="M803.4 555l-4.4 11.4l-6.3 10.7l0.7 2.5l-8.2 10.4M757.9 590l0.9 2.3l1.7 0.3l6.2 7.1l0.3 4.4l0.8 3.2l-1.7 2.6l-2.1 1.5l-0.9 1.5M758.8 593.2l4.3 7.3l2.7 0.3M763.1 600.5l-0.5 1.5l-2.7 0.3l-1.7 2.3l-1.8 3.6l-1 2.9l0.7 1.8M762.6 602l-3 8.8l-0.3 1.8M767.8 607.3l2.7-2.7l4.7-2.6l2.9-2.3l2.9-3.8l3.5-2.4l0.6-3.5" stroke="#303030" stroke-width="1.05"/>
</g>
<g clip-path="url(#cL2)" fill="none" stroke-linejoin="round" stroke-linecap="butt">
<path d="M870 567l3.1 1.6l2 1.5l2.2 3.1l2.2 4l1.2 3.5l0.8 3.8l0.2 2l0 5.6l0.2 1.6l0.3 1.3l2 4.8l7.5 14.9l0.3 0.9l0.2 0.9l-0.3 0.7l-0.5 0.7l-2.8 2l-1.5 1.4l-4.8 6l-3.4 3.9l-0.9 1.3l-0.6 1.2l-0.8 3.2l-0.3 4l0.2 1.1l1 2.9l0 1.4l-2.4 7.2l-2.2 10.2M910.5 555l2.3 6.3l2.5 7.6l3.3 6.3l3.1 3.8l0.7 1.3l0.4 1.5l0.5 3.3l0.4 0.8l0.5 0.8l1.6 1.4l2.6 1.9l5.5 3l2.5 1.7l13 10.9l5.4 4.2l1.6 1.1l1.3 0.5l1.1 0.3l1.6 0.2l1.8-0.3l1.2-0.9l3.6-4.6l0.5-0.9l0.3-1l0-1.3l-0.4-1.8l-4.8-13.8l-2-3.5l-1-1.2l-1.2-1.1l-2-1.2l-5.1-2.3l-5.2-3.2l-3.6-2.8l-3.5-3.5l-1.8-2.4l-0.7-1.8l-0.3-1.7l-0.3-3.4l-0.7-4.2M932.5 582.2l0.2-1.6l0.4-1.8l1-2l0.7-0.6l1.4-0.6l2.9-0.5l2.1 0.2l1.8 0.9l8.2 5.9l2.2 2l2.3 2.7l1.7 2.7l1.1 2.8l0.9 3.3l0.3 2.3l-0.4 3.1l-0.9 2.1l-0.6 0.5l-0.8 0.2l-2.1-0.3l-2.8-1.1l-2.3-1.6l-7.7-6.7l-6.9-6.5l-1.1-1.5l-0.9-1.5l-0.6-1.4l-0.1-1zM923.1 563.2l0.4-1.3l0.7-1.9l0.9-1.5l0.4-0.3l0.8 0.7l1.5 2.4l0.7 1.6l0 0.6l-1.4 1.9l-1.3 1.3l-0.6 0.3l-0.5-0.5l-0.8-1.1l-0.6-1.2l-0.2-1zM945.6 555l2.4 4.9l1.7 2.5l11.2 11.5l4.8 4.4l1.6 2l0.9 2.2l1.2 5.3l0.6 1.8l5.6 10.8l0.8 1.9l0.3 1.3l0 1l-0.4 2.5l-1 2.6l-1.2 2.1l-1.6 2l-3.7 4.2l-4.1 3.9l-4.9 3.3l-1.4 1.2l-0.6 1.4l-0.6 4.3l-1.7 3.7l-0.9 1.3l-1.8 1.9l-1.8 1.5l-1.3 0.8l-1.2 0.2l-1-0.3l-1.5-0.9l-2.5-2.3l-1-1.3l-1.8-2.8l-1-3l-0.9-0.7l-2.1-0.4l-6.1-0.3l-5.3-1l-1.9-0.2l-2.7 0.3l-1.5 0.7l-0.9 0.5l-0.5 0.7l-0.4 0.9l-0.4 1.6l-0.2 1.7l0 2l0.6 5.3l0 1.4l-0.3 0.9l-1.1 2.5l-1.8 2.9l-2.9 3.4l-0.7 1.9l-0.1 1.1l0.3 1.6l2.7 6" stroke="#858585" stroke-width="0.65"/>
<path d="M902.5 555l-0.3 25.3l-0.9 35.1M894.8 555l1.3 4.4l3.7 5.1l5.6 5.9M965.1 555l-0.6 21.5l4.7 5.7l0.6 9.4l3.1 5.1l3 3.5l10.3 0" stroke="#444444" stroke-width="0.8"/>
<circle cx="951.5" cy="592.6" r="0.6" fill="#777" stroke="none"/>
</g>
<g clip-path="url(#cmap)" fill="none" stroke="#000" stroke-width="1.4" stroke-linejoin="round">
<path d="M37.5 332.6 L70.4 346.8 L90 355.1 L200 401.4 L260 426.3 L370 471.7 L430 496.4 L570 552.8 L630 576.6 L690 600.4 L719.3 612.1 L740 612.5 L800 613.5 L930 615.8 L988 616.8"/>
<path d="M37.6 605.3 L52.3 612.8 L68.7 617.9 L85.1 622.9 L100.3 629 L114.4 637.2 L129.4 647.7 L131.9 663.5"/>
</g>
<g font-family="Liberation Sans, sans-serif" font-size="11.2" fill="#787878" text-anchor="middle" opacity="0.99">
<text x="94.2" y="222" transform="rotate(73 94.2 222)" dy="4">1000</text>
<text x="671.4" y="140" transform="rotate(87 671.4 140)" dy="4">2000</text>
<text x="736.2" y="140" transform="rotate(-90 736.2 140)" dy="4">3000</text>
<text x="800.3" y="213.5" transform="rotate(-75 800.3 213.5)" dy="4">4000</text>
<text x="888.9" y="206.6" transform="rotate(65 888.9 206.6)" dy="4">3000</text>
<text x="969.8" y="327.3" transform="rotate(-88 969.8 327.3)" dy="4">4000</text>
<text x="771.2" y="428" transform="rotate(-38 771.2 428)" dy="4">3000</text>
<text x="184.1" y="505.4" transform="rotate(57 184.1 505.4)" dy="4">1000</text>
<text x="299.8" y="532.3" transform="rotate(3 299.8 532.3)" dy="4">2000</text>
<text x="534.5" y="611.6" transform="rotate(-55 534.5 611.6)" dy="4">3000</text>
<text x="571.9" y="639.5" transform="rotate(82 571.9 639.5)" dy="4">3000</text>
<text x="686.9" y="601.4" transform="rotate(78 686.9 601.4)" dy="4">4000</text>
</g>
<g font-family="Liberation Sans, sans-serif" fill="#1a1a1a" stroke="#1a1a1a" stroke-width="0.35" stroke-linejoin="round" opacity="0.99">
<text font-size="19.9"><tspan x="36.21" y="111.3" textLength="98.99" lengthAdjust="spacingAndGlyphs">2025-12-16</tspan><tspan x="141.13" y="111.3" textLength="79.07" lengthAdjust="spacingAndGlyphs">07:00PM</tspan><tspan x="224.87" y="111.3" textLength="41.11" lengthAdjust="spacingAndGlyphs">MST</tspan></text>
<text font-size="24.7"><tspan x="396.67" y="106.4" textLength="53.36" lengthAdjust="spacingAndGlyphs">Total</tspan><tspan x="456.01" y="106.4" textLength="131.43" lengthAdjust="spacingAndGlyphs">Precipitation</tspan><tspan x="594.75" y="106.4" textLength="34.36" lengthAdjust="spacingAndGlyphs">(in)</tspan></text>
<text font-size="20.1"><tspan x="782.70" y="108.2" textLength="187.14" lengthAdjust="spacingAndGlyphs">2025-12-17_02:00:00</tspan><tspan x="975.83" y="108.2" textLength="12.11" lengthAdjust="spacingAndGlyphs">Z</tspan></text>
<text font-size="26.8"><tspan x="117.68" y="722" textLength="19.19" lengthAdjust="spacingAndGlyphs">U</tspan><tspan x="144.16" y="722" textLength="21.14" lengthAdjust="spacingAndGlyphs">of</tspan><tspan x="173.80" y="722" textLength="16.07" lengthAdjust="spacingAndGlyphs">A</tspan><tspan x="198.13" y="722" textLength="53.88" lengthAdjust="spacingAndGlyphs">Dept</tspan><tspan x="260.44" y="722" textLength="20.61" lengthAdjust="spacingAndGlyphs">of</tspan><tspan x="289.38" y="722" textLength="114.87" lengthAdjust="spacingAndGlyphs">Hydrology</tspan><tspan x="413.99" y="722" textLength="43.88" lengthAdjust="spacingAndGlyphs">and</tspan><tspan x="465.55" y="722" textLength="143.61" lengthAdjust="spacingAndGlyphs">Atmospheric</tspan><tspan x="616.51" y="722" textLength="105.42" lengthAdjust="spacingAndGlyphs">Sciences</tspan><tspan x="731.30" y="722" textLength="120.46" lengthAdjust="spacingAndGlyphs">WRF-GFS</tspan><tspan x="859.12" y="722" textLength="45.32" lengthAdjust="spacingAndGlyphs">06Z</tspan></text>
<text font-size="22.1"><tspan x="125.68" y="831.8" textLength="40.12" lengthAdjust="spacingAndGlyphs">0.01</tspan><tspan x="177.95" y="831.8" textLength="40.12" lengthAdjust="spacingAndGlyphs">0.10</tspan><tspan x="230.33" y="831.8" textLength="40.12" lengthAdjust="spacingAndGlyphs">0.25</tspan><tspan x="282.70" y="831.8" textLength="40.12" lengthAdjust="spacingAndGlyphs">0.40</tspan><tspan x="340.96" y="831.8" textLength="28.54" lengthAdjust="spacingAndGlyphs">0.7</tspan><tspan x="392.88" y="831.8" textLength="28.53" lengthAdjust="spacingAndGlyphs">1.0</tspan><tspan x="439.47" y="831.8" textLength="40.11" lengthAdjust="spacingAndGlyphs">1.25</tspan><tspan x="491.85" y="831.8" textLength="40.11" lengthAdjust="spacingAndGlyphs">1.75</tspan><tspan x="550.25" y="831.8" textLength="28.54" lengthAdjust="spacingAndGlyphs">2.5</tspan><tspan x="602.73" y="831.8" textLength="28.54" lengthAdjust="spacingAndGlyphs">3.0</tspan><tspan x="655.26" y="831.8" textLength="28.55" lengthAdjust="spacingAndGlyphs">4.0</tspan><tspan x="707.48" y="831.8" textLength="28.54" lengthAdjust="spacingAndGlyphs">5.0</tspan><tspan x="759.75" y="831.8" textLength="28.54" lengthAdjust="spacingAndGlyphs">6.0</tspan><tspan x="812.18" y="831.8" textLength="28.54" lengthAdjust="spacingAndGlyphs">8.0</tspan><tspan x="858.47" y="831.8" textLength="40.11" lengthAdjust="spacingAndGlyphs">10.0</tspan></text>
</g>
<g shape-rendering="crispEdges">
<rect x="93" y="753" width="838" height="48" fill="#ffffff"/>
<rect x="145.4" y="753" width="785.6" height="48" fill="#00e8ec"/>
<rect x="197.8" y="753" width="733.2" height="48" fill="#699ff7"/>
<rect x="250.1" y="753" width="680.9" height="48" fill="#3333ff"/>
<rect x="302.5" y="753" width="628.5" height="48" fill="#00ff00"/>
<rect x="354.9" y="753" width="576.1" height="48" fill="#00c800"/>
<rect x="407.2" y="753" width="523.8" height="48" fill="#008000"/>
<rect x="459.6" y="753" width="471.4" height="48" fill="#ffff00"/>
<rect x="512" y="753" width="419" height="48" fill="#e7c000"/>
<rect x="564.4" y="753" width="366.6" height="48" fill="#ff9000"/>
<rect x="616.8" y="753" width="314.2" height="48" fill="#ff3000"/>
<rect x="669.1" y="753" width="261.9" height="48" fill="#c01800"/>
<rect x="721.5" y="753" width="209.5" height="48" fill="#800000"/>
<rect x="773.9" y="753" width="157.1" height="48" fill="#ff00ff"/>
<rect x="826.2" y="753" width="104.8" height="48" fill="#9955cc"/>
<rect x="878.6" y="753" width="52.4" height="48" fill="#d3d3d3"/>
</g>
</svg>
</body></html>
